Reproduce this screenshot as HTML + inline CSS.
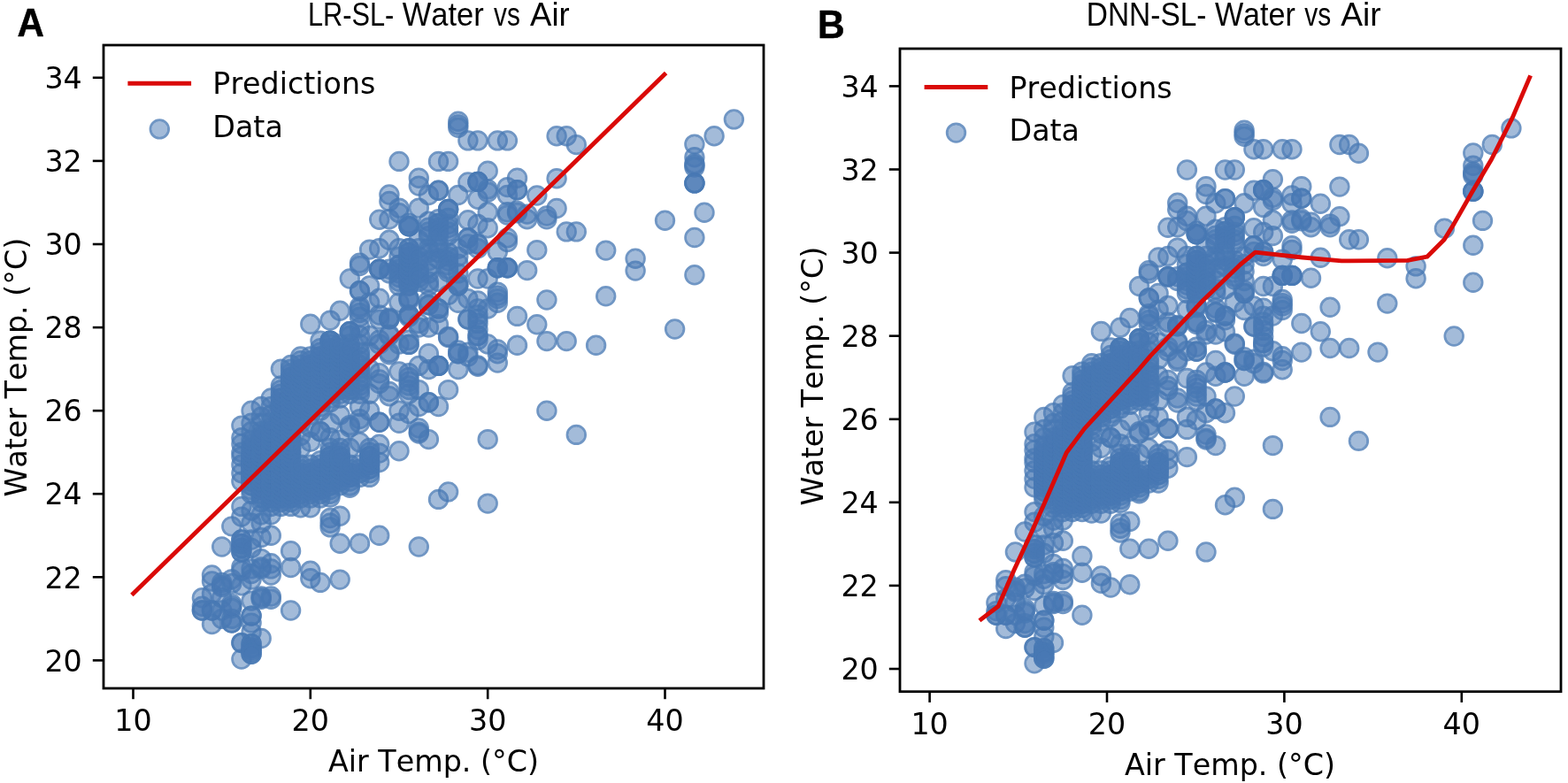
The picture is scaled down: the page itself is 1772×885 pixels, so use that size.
<!DOCTYPE html>
<html lang="en"><head><meta charset="utf-8"><title>LR-SL and DNN-SL - Water vs Air</title>
<style>html,body{margin:0;padding:0;background:#fff}body{width:1772px;height:885px;overflow:hidden}svg{display:block}text{font-kerning:none}.tk{font-family:"DejaVu Sans","Liberation Sans",sans-serif;font-size:33.3px;fill:#000}.lg{font-family:"DejaVu Sans","Liberation Sans",sans-serif;font-size:33.3px;fill:#000}.ax{font-family:"DejaVu Sans","Liberation Sans",sans-serif;font-size:33.35px;fill:#000}.tt{font-family:"Liberation Sans","DejaVu Sans",sans-serif;font-size:37px;fill:#000}.pl{font-family:"Liberation Sans","DejaVu Sans",sans-serif;font-size:43.5px;font-weight:bold;fill:#000;stroke:#000;stroke-width:.5px}</style></head><body>
<svg width="1772" height="885" viewBox="0 0 1772 885">
<rect width="1772" height="885" fill="#fff"/>
<defs><g id="d"><circle r="8.70" fill="#4878b4" fill-opacity="0.5"/><circle r="10.2" fill="none" stroke="#4878b4" stroke-opacity="0.78" stroke-width="3.0"/></g></defs>
<g>
<use href="#d" x="228.4" y="675.8"/><use href="#d" x="228.4" y="685.2"/><use href="#d" x="228.4" y="690.0"/><use href="#d" x="228.4" y="690.0"/><use href="#d" x="239.5" y="650.0"/><use href="#d" x="239.5" y="657.0"/><use href="#d" x="239.5" y="671.1"/><use href="#d" x="239.5" y="690.0"/><use href="#d" x="239.5" y="690.0"/><use href="#d" x="239.5" y="705.5"/><use href="#d" x="250.7" y="618.0"/><use href="#d" x="250.7" y="658.4"/><use href="#d" x="250.7" y="661.7"/><use href="#d" x="250.7" y="663.6"/><use href="#d" x="250.7" y="675.8"/><use href="#d" x="250.7" y="699.4"/><use href="#d" x="250.7" y="690.0"/><use href="#d" x="261.8" y="594.9"/><use href="#d" x="261.8" y="654.7"/><use href="#d" x="261.8" y="659.4"/><use href="#d" x="261.8" y="682.4"/><use href="#d" x="261.8" y="685.2"/><use href="#d" x="261.8" y="704.1"/><use href="#d" x="261.8" y="704.1"/><use href="#d" x="261.8" y="699.4"/><use href="#d" x="261.8" y="687.6"/><use href="#d" x="272.9" y="481.1"/><use href="#d" x="272.9" y="494.7"/><use href="#d" x="272.9" y="501.8"/><use href="#d" x="272.9" y="511.2"/><use href="#d" x="272.9" y="515.9"/><use href="#d" x="272.9" y="525.3"/><use href="#d" x="272.9" y="534.7"/><use href="#d" x="272.9" y="544.1"/><use href="#d" x="272.9" y="572.4"/><use href="#d" x="272.9" y="584.1"/><use href="#d" x="272.9" y="624.1"/><use href="#d" x="272.9" y="624.1"/><use href="#d" x="272.9" y="619.4"/><use href="#d" x="272.9" y="619.4"/><use href="#d" x="272.9" y="614.7"/><use href="#d" x="272.9" y="614.7"/><use href="#d" x="272.9" y="610.0"/><use href="#d" x="272.9" y="610.0"/><use href="#d" x="272.9" y="641.0"/><use href="#d" x="272.9" y="645.3"/><use href="#d" x="272.9" y="661.7"/><use href="#d" x="272.9" y="726.6"/><use href="#d" x="272.9" y="726.6"/><use href="#d" x="272.9" y="745.0"/><use href="#d" x="284.1" y="464.2"/><use href="#d" x="284.1" y="478.3"/><use href="#d" x="284.1" y="487.7"/><use href="#d" x="284.1" y="558.2"/><use href="#d" x="284.1" y="553.5"/><use href="#d" x="284.1" y="548.8"/><use href="#d" x="284.1" y="548.8"/><use href="#d" x="284.1" y="544.1"/><use href="#d" x="284.1" y="544.1"/><use href="#d" x="284.1" y="539.4"/><use href="#d" x="284.1" y="539.4"/><use href="#d" x="284.1" y="539.4"/><use href="#d" x="284.1" y="534.7"/><use href="#d" x="284.1" y="534.7"/><use href="#d" x="284.1" y="534.7"/><use href="#d" x="284.1" y="530.0"/><use href="#d" x="284.1" y="530.0"/><use href="#d" x="284.1" y="530.0"/><use href="#d" x="284.1" y="525.3"/><use href="#d" x="284.1" y="525.3"/><use href="#d" x="284.1" y="525.3"/><use href="#d" x="284.1" y="520.6"/><use href="#d" x="284.1" y="520.6"/><use href="#d" x="284.1" y="520.6"/><use href="#d" x="284.1" y="515.9"/><use href="#d" x="284.1" y="515.9"/><use href="#d" x="284.1" y="515.9"/><use href="#d" x="284.1" y="511.2"/><use href="#d" x="284.1" y="511.2"/><use href="#d" x="284.1" y="506.5"/><use href="#d" x="284.1" y="506.5"/><use href="#d" x="284.1" y="501.8"/><use href="#d" x="284.1" y="497.1"/><use href="#d" x="284.1" y="577.1"/><use href="#d" x="284.1" y="591.2"/><use href="#d" x="284.1" y="610.0"/><use href="#d" x="284.1" y="619.4"/><use href="#d" x="284.1" y="642.9"/><use href="#d" x="284.1" y="648.6"/><use href="#d" x="284.1" y="655.1"/><use href="#d" x="284.1" y="679.1"/><use href="#d" x="284.1" y="696.1"/><use href="#d" x="284.1" y="696.1"/><use href="#d" x="284.1" y="704.1"/><use href="#d" x="284.1" y="714.4"/><use href="#d" x="284.1" y="727.6"/><use href="#d" x="284.1" y="727.6"/><use href="#d" x="284.1" y="732.3"/><use href="#d" x="284.1" y="732.3"/><use href="#d" x="284.1" y="734.6"/><use href="#d" x="284.1" y="737.0"/><use href="#d" x="284.1" y="739.3"/><use href="#d" x="284.1" y="739.3"/><use href="#d" x="295.2" y="459.5"/><use href="#d" x="295.2" y="471.2"/><use href="#d" x="295.2" y="478.3"/><use href="#d" x="295.2" y="567.6"/><use href="#d" x="295.2" y="562.9"/><use href="#d" x="295.2" y="558.2"/><use href="#d" x="295.2" y="558.2"/><use href="#d" x="295.2" y="553.5"/><use href="#d" x="295.2" y="553.5"/><use href="#d" x="295.2" y="548.8"/><use href="#d" x="295.2" y="548.8"/><use href="#d" x="295.2" y="548.8"/><use href="#d" x="295.2" y="544.1"/><use href="#d" x="295.2" y="544.1"/><use href="#d" x="295.2" y="544.1"/><use href="#d" x="295.2" y="539.4"/><use href="#d" x="295.2" y="539.4"/><use href="#d" x="295.2" y="539.4"/><use href="#d" x="295.2" y="534.7"/><use href="#d" x="295.2" y="534.7"/><use href="#d" x="295.2" y="534.7"/><use href="#d" x="295.2" y="530.0"/><use href="#d" x="295.2" y="530.0"/><use href="#d" x="295.2" y="530.0"/><use href="#d" x="295.2" y="525.3"/><use href="#d" x="295.2" y="525.3"/><use href="#d" x="295.2" y="525.3"/><use href="#d" x="295.2" y="520.6"/><use href="#d" x="295.2" y="520.6"/><use href="#d" x="295.2" y="520.6"/><use href="#d" x="295.2" y="515.9"/><use href="#d" x="295.2" y="515.9"/><use href="#d" x="295.2" y="515.9"/><use href="#d" x="295.2" y="511.2"/><use href="#d" x="295.2" y="511.2"/><use href="#d" x="295.2" y="511.2"/><use href="#d" x="295.2" y="506.5"/><use href="#d" x="295.2" y="506.5"/><use href="#d" x="295.2" y="506.5"/><use href="#d" x="295.2" y="501.8"/><use href="#d" x="295.2" y="501.8"/><use href="#d" x="295.2" y="497.1"/><use href="#d" x="295.2" y="497.1"/><use href="#d" x="295.2" y="492.4"/><use href="#d" x="295.2" y="487.7"/><use href="#d" x="295.2" y="581.8"/><use href="#d" x="295.2" y="591.2"/><use href="#d" x="295.2" y="607.6"/><use href="#d" x="295.2" y="631.6"/><use href="#d" x="295.2" y="641.0"/><use href="#d" x="295.2" y="642.9"/><use href="#d" x="295.2" y="674.0"/><use href="#d" x="295.2" y="677.3"/><use href="#d" x="295.2" y="675.8"/><use href="#d" x="295.2" y="721.5"/><use href="#d" x="306.3" y="450.0"/><use href="#d" x="306.3" y="459.5"/><use href="#d" x="306.3" y="468.9"/><use href="#d" x="306.3" y="572.4"/><use href="#d" x="306.3" y="567.6"/><use href="#d" x="306.3" y="562.9"/><use href="#d" x="306.3" y="562.9"/><use href="#d" x="306.3" y="558.2"/><use href="#d" x="306.3" y="558.2"/><use href="#d" x="306.3" y="553.5"/><use href="#d" x="306.3" y="553.5"/><use href="#d" x="306.3" y="553.5"/><use href="#d" x="306.3" y="548.8"/><use href="#d" x="306.3" y="548.8"/><use href="#d" x="306.3" y="548.8"/><use href="#d" x="306.3" y="544.1"/><use href="#d" x="306.3" y="544.1"/><use href="#d" x="306.3" y="544.1"/><use href="#d" x="306.3" y="539.4"/><use href="#d" x="306.3" y="539.4"/><use href="#d" x="306.3" y="539.4"/><use href="#d" x="306.3" y="534.7"/><use href="#d" x="306.3" y="534.7"/><use href="#d" x="306.3" y="534.7"/><use href="#d" x="306.3" y="530.0"/><use href="#d" x="306.3" y="530.0"/><use href="#d" x="306.3" y="530.0"/><use href="#d" x="306.3" y="525.3"/><use href="#d" x="306.3" y="525.3"/><use href="#d" x="306.3" y="525.3"/><use href="#d" x="306.3" y="520.6"/><use href="#d" x="306.3" y="520.6"/><use href="#d" x="306.3" y="520.6"/><use href="#d" x="306.3" y="515.9"/><use href="#d" x="306.3" y="515.9"/><use href="#d" x="306.3" y="515.9"/><use href="#d" x="306.3" y="511.2"/><use href="#d" x="306.3" y="511.2"/><use href="#d" x="306.3" y="511.2"/><use href="#d" x="306.3" y="506.5"/><use href="#d" x="306.3" y="506.5"/><use href="#d" x="306.3" y="506.5"/><use href="#d" x="306.3" y="501.8"/><use href="#d" x="306.3" y="501.8"/><use href="#d" x="306.3" y="501.8"/><use href="#d" x="306.3" y="497.1"/><use href="#d" x="306.3" y="497.1"/><use href="#d" x="306.3" y="497.1"/><use href="#d" x="306.3" y="492.4"/><use href="#d" x="306.3" y="492.4"/><use href="#d" x="306.3" y="487.7"/><use href="#d" x="306.3" y="487.7"/><use href="#d" x="306.3" y="483.0"/><use href="#d" x="306.3" y="478.3"/><use href="#d" x="306.3" y="581.8"/><use href="#d" x="306.3" y="605.3"/><use href="#d" x="306.3" y="636.8"/><use href="#d" x="306.3" y="642.9"/><use href="#d" x="306.3" y="650.0"/><use href="#d" x="306.3" y="674.0"/><use href="#d" x="306.3" y="677.3"/><use href="#d" x="317.4" y="417.1"/><use href="#d" x="317.4" y="435.9"/><use href="#d" x="317.4" y="572.4"/><use href="#d" x="317.4" y="567.6"/><use href="#d" x="317.4" y="562.9"/><use href="#d" x="317.4" y="562.9"/><use href="#d" x="317.4" y="558.2"/><use href="#d" x="317.4" y="558.2"/><use href="#d" x="317.4" y="553.5"/><use href="#d" x="317.4" y="553.5"/><use href="#d" x="317.4" y="553.5"/><use href="#d" x="317.4" y="548.8"/><use href="#d" x="317.4" y="548.8"/><use href="#d" x="317.4" y="548.8"/><use href="#d" x="317.4" y="544.1"/><use href="#d" x="317.4" y="544.1"/><use href="#d" x="317.4" y="544.1"/><use href="#d" x="317.4" y="539.4"/><use href="#d" x="317.4" y="539.4"/><use href="#d" x="317.4" y="539.4"/><use href="#d" x="317.4" y="534.7"/><use href="#d" x="317.4" y="534.7"/><use href="#d" x="317.4" y="534.7"/><use href="#d" x="317.4" y="530.0"/><use href="#d" x="317.4" y="530.0"/><use href="#d" x="317.4" y="530.0"/><use href="#d" x="317.4" y="525.3"/><use href="#d" x="317.4" y="525.3"/><use href="#d" x="317.4" y="525.3"/><use href="#d" x="317.4" y="520.6"/><use href="#d" x="317.4" y="520.6"/><use href="#d" x="317.4" y="520.6"/><use href="#d" x="317.4" y="515.9"/><use href="#d" x="317.4" y="515.9"/><use href="#d" x="317.4" y="515.9"/><use href="#d" x="317.4" y="511.2"/><use href="#d" x="317.4" y="511.2"/><use href="#d" x="317.4" y="511.2"/><use href="#d" x="317.4" y="506.5"/><use href="#d" x="317.4" y="506.5"/><use href="#d" x="317.4" y="506.5"/><use href="#d" x="317.4" y="501.8"/><use href="#d" x="317.4" y="501.8"/><use href="#d" x="317.4" y="501.8"/><use href="#d" x="317.4" y="497.1"/><use href="#d" x="317.4" y="497.1"/><use href="#d" x="317.4" y="497.1"/><use href="#d" x="317.4" y="492.4"/><use href="#d" x="317.4" y="492.4"/><use href="#d" x="317.4" y="492.4"/><use href="#d" x="317.4" y="487.7"/><use href="#d" x="317.4" y="487.7"/><use href="#d" x="317.4" y="487.7"/><use href="#d" x="317.4" y="483.0"/><use href="#d" x="317.4" y="483.0"/><use href="#d" x="317.4" y="483.0"/><use href="#d" x="317.4" y="478.3"/><use href="#d" x="317.4" y="478.3"/><use href="#d" x="317.4" y="478.3"/><use href="#d" x="317.4" y="473.6"/><use href="#d" x="317.4" y="473.6"/><use href="#d" x="317.4" y="473.6"/><use href="#d" x="317.4" y="468.9"/><use href="#d" x="317.4" y="468.9"/><use href="#d" x="317.4" y="468.9"/><use href="#d" x="317.4" y="464.2"/><use href="#d" x="317.4" y="464.2"/><use href="#d" x="317.4" y="464.2"/><use href="#d" x="317.4" y="459.5"/><use href="#d" x="317.4" y="459.5"/><use href="#d" x="317.4" y="459.5"/><use href="#d" x="317.4" y="454.8"/><use href="#d" x="317.4" y="454.8"/><use href="#d" x="317.4" y="450.0"/><use href="#d" x="317.4" y="450.0"/><use href="#d" x="317.4" y="445.3"/><use href="#d" x="317.4" y="440.6"/><use href="#d" x="328.6" y="412.4"/><use href="#d" x="328.6" y="572.4"/><use href="#d" x="328.6" y="567.6"/><use href="#d" x="328.6" y="562.9"/><use href="#d" x="328.6" y="562.9"/><use href="#d" x="328.6" y="558.2"/><use href="#d" x="328.6" y="558.2"/><use href="#d" x="328.6" y="553.5"/><use href="#d" x="328.6" y="553.5"/><use href="#d" x="328.6" y="553.5"/><use href="#d" x="328.6" y="548.8"/><use href="#d" x="328.6" y="548.8"/><use href="#d" x="328.6" y="548.8"/><use href="#d" x="328.6" y="544.1"/><use href="#d" x="328.6" y="544.1"/><use href="#d" x="328.6" y="544.1"/><use href="#d" x="328.6" y="539.4"/><use href="#d" x="328.6" y="539.4"/><use href="#d" x="328.6" y="539.4"/><use href="#d" x="328.6" y="534.7"/><use href="#d" x="328.6" y="534.7"/><use href="#d" x="328.6" y="534.7"/><use href="#d" x="328.6" y="530.0"/><use href="#d" x="328.6" y="530.0"/><use href="#d" x="328.6" y="530.0"/><use href="#d" x="328.6" y="525.3"/><use href="#d" x="328.6" y="525.3"/><use href="#d" x="328.6" y="525.3"/><use href="#d" x="328.6" y="520.6"/><use href="#d" x="328.6" y="520.6"/><use href="#d" x="328.6" y="520.6"/><use href="#d" x="328.6" y="515.9"/><use href="#d" x="328.6" y="515.9"/><use href="#d" x="328.6" y="515.9"/><use href="#d" x="328.6" y="511.2"/><use href="#d" x="328.6" y="511.2"/><use href="#d" x="328.6" y="511.2"/><use href="#d" x="328.6" y="506.5"/><use href="#d" x="328.6" y="506.5"/><use href="#d" x="328.6" y="506.5"/><use href="#d" x="328.6" y="501.8"/><use href="#d" x="328.6" y="501.8"/><use href="#d" x="328.6" y="501.8"/><use href="#d" x="328.6" y="497.1"/><use href="#d" x="328.6" y="497.1"/><use href="#d" x="328.6" y="497.1"/><use href="#d" x="328.6" y="492.4"/><use href="#d" x="328.6" y="492.4"/><use href="#d" x="328.6" y="492.4"/><use href="#d" x="328.6" y="487.7"/><use href="#d" x="328.6" y="487.7"/><use href="#d" x="328.6" y="487.7"/><use href="#d" x="328.6" y="483.0"/><use href="#d" x="328.6" y="483.0"/><use href="#d" x="328.6" y="483.0"/><use href="#d" x="328.6" y="478.3"/><use href="#d" x="328.6" y="478.3"/><use href="#d" x="328.6" y="478.3"/><use href="#d" x="328.6" y="473.6"/><use href="#d" x="328.6" y="473.6"/><use href="#d" x="328.6" y="473.6"/><use href="#d" x="328.6" y="468.9"/><use href="#d" x="328.6" y="468.9"/><use href="#d" x="328.6" y="468.9"/><use href="#d" x="328.6" y="464.2"/><use href="#d" x="328.6" y="464.2"/><use href="#d" x="328.6" y="464.2"/><use href="#d" x="328.6" y="459.5"/><use href="#d" x="328.6" y="459.5"/><use href="#d" x="328.6" y="459.5"/><use href="#d" x="328.6" y="454.8"/><use href="#d" x="328.6" y="454.8"/><use href="#d" x="328.6" y="454.8"/><use href="#d" x="328.6" y="450.0"/><use href="#d" x="328.6" y="450.0"/><use href="#d" x="328.6" y="450.0"/><use href="#d" x="328.6" y="445.3"/><use href="#d" x="328.6" y="445.3"/><use href="#d" x="328.6" y="445.3"/><use href="#d" x="328.6" y="440.6"/><use href="#d" x="328.6" y="440.6"/><use href="#d" x="328.6" y="440.6"/><use href="#d" x="328.6" y="435.9"/><use href="#d" x="328.6" y="435.9"/><use href="#d" x="328.6" y="435.9"/><use href="#d" x="328.6" y="431.2"/><use href="#d" x="328.6" y="431.2"/><use href="#d" x="328.6" y="426.5"/><use href="#d" x="328.6" y="426.5"/><use href="#d" x="328.6" y="421.8"/><use href="#d" x="328.6" y="417.1"/><use href="#d" x="328.6" y="622.7"/><use href="#d" x="328.6" y="641.5"/><use href="#d" x="328.6" y="690.0"/><use href="#d" x="339.7" y="403.0"/><use href="#d" x="339.7" y="478.3"/><use href="#d" x="339.7" y="473.6"/><use href="#d" x="339.7" y="468.9"/><use href="#d" x="339.7" y="468.9"/><use href="#d" x="339.7" y="464.2"/><use href="#d" x="339.7" y="464.2"/><use href="#d" x="339.7" y="459.5"/><use href="#d" x="339.7" y="459.5"/><use href="#d" x="339.7" y="459.5"/><use href="#d" x="339.7" y="454.8"/><use href="#d" x="339.7" y="454.8"/><use href="#d" x="339.7" y="454.8"/><use href="#d" x="339.7" y="450.0"/><use href="#d" x="339.7" y="450.0"/><use href="#d" x="339.7" y="450.0"/><use href="#d" x="339.7" y="445.3"/><use href="#d" x="339.7" y="445.3"/><use href="#d" x="339.7" y="445.3"/><use href="#d" x="339.7" y="440.6"/><use href="#d" x="339.7" y="440.6"/><use href="#d" x="339.7" y="440.6"/><use href="#d" x="339.7" y="435.9"/><use href="#d" x="339.7" y="435.9"/><use href="#d" x="339.7" y="435.9"/><use href="#d" x="339.7" y="431.2"/><use href="#d" x="339.7" y="431.2"/><use href="#d" x="339.7" y="431.2"/><use href="#d" x="339.7" y="426.5"/><use href="#d" x="339.7" y="426.5"/><use href="#d" x="339.7" y="426.5"/><use href="#d" x="339.7" y="421.8"/><use href="#d" x="339.7" y="421.8"/><use href="#d" x="339.7" y="417.1"/><use href="#d" x="339.7" y="417.1"/><use href="#d" x="339.7" y="412.4"/><use href="#d" x="339.7" y="407.7"/><use href="#d" x="339.7" y="492.4"/><use href="#d" x="339.7" y="506.5"/><use href="#d" x="339.7" y="573.8"/><use href="#d" x="339.7" y="562.9"/><use href="#d" x="339.7" y="558.2"/><use href="#d" x="339.7" y="553.5"/><use href="#d" x="339.7" y="553.5"/><use href="#d" x="339.7" y="548.8"/><use href="#d" x="339.7" y="548.8"/><use href="#d" x="339.7" y="544.1"/><use href="#d" x="339.7" y="544.1"/><use href="#d" x="339.7" y="544.1"/><use href="#d" x="339.7" y="539.4"/><use href="#d" x="339.7" y="539.4"/><use href="#d" x="339.7" y="534.7"/><use href="#d" x="339.7" y="534.7"/><use href="#d" x="339.7" y="530.0"/><use href="#d" x="339.7" y="525.3"/><use href="#d" x="350.8" y="366.3"/><use href="#d" x="350.8" y="468.9"/><use href="#d" x="350.8" y="464.2"/><use href="#d" x="350.8" y="459.5"/><use href="#d" x="350.8" y="459.5"/><use href="#d" x="350.8" y="454.8"/><use href="#d" x="350.8" y="454.8"/><use href="#d" x="350.8" y="450.0"/><use href="#d" x="350.8" y="450.0"/><use href="#d" x="350.8" y="450.0"/><use href="#d" x="350.8" y="445.3"/><use href="#d" x="350.8" y="445.3"/><use href="#d" x="350.8" y="445.3"/><use href="#d" x="350.8" y="440.6"/><use href="#d" x="350.8" y="440.6"/><use href="#d" x="350.8" y="440.6"/><use href="#d" x="350.8" y="435.9"/><use href="#d" x="350.8" y="435.9"/><use href="#d" x="350.8" y="435.9"/><use href="#d" x="350.8" y="431.2"/><use href="#d" x="350.8" y="431.2"/><use href="#d" x="350.8" y="431.2"/><use href="#d" x="350.8" y="426.5"/><use href="#d" x="350.8" y="426.5"/><use href="#d" x="350.8" y="426.5"/><use href="#d" x="350.8" y="421.8"/><use href="#d" x="350.8" y="421.8"/><use href="#d" x="350.8" y="421.8"/><use href="#d" x="350.8" y="417.1"/><use href="#d" x="350.8" y="417.1"/><use href="#d" x="350.8" y="412.4"/><use href="#d" x="350.8" y="412.4"/><use href="#d" x="350.8" y="407.7"/><use href="#d" x="350.8" y="403.0"/><use href="#d" x="350.8" y="483.0"/><use href="#d" x="350.8" y="499.4"/><use href="#d" x="350.8" y="573.8"/><use href="#d" x="350.8" y="562.9"/><use href="#d" x="350.8" y="558.2"/><use href="#d" x="350.8" y="553.5"/><use href="#d" x="350.8" y="553.5"/><use href="#d" x="350.8" y="548.8"/><use href="#d" x="350.8" y="548.8"/><use href="#d" x="350.8" y="544.1"/><use href="#d" x="350.8" y="544.1"/><use href="#d" x="350.8" y="544.1"/><use href="#d" x="350.8" y="539.4"/><use href="#d" x="350.8" y="539.4"/><use href="#d" x="350.8" y="534.7"/><use href="#d" x="350.8" y="534.7"/><use href="#d" x="350.8" y="530.0"/><use href="#d" x="350.8" y="525.3"/><use href="#d" x="350.8" y="645.3"/><use href="#d" x="350.8" y="653.7"/><use href="#d" x="362.0" y="385.1"/><use href="#d" x="362.0" y="464.2"/><use href="#d" x="362.0" y="459.5"/><use href="#d" x="362.0" y="454.8"/><use href="#d" x="362.0" y="454.8"/><use href="#d" x="362.0" y="450.0"/><use href="#d" x="362.0" y="450.0"/><use href="#d" x="362.0" y="445.3"/><use href="#d" x="362.0" y="445.3"/><use href="#d" x="362.0" y="445.3"/><use href="#d" x="362.0" y="440.6"/><use href="#d" x="362.0" y="440.6"/><use href="#d" x="362.0" y="440.6"/><use href="#d" x="362.0" y="435.9"/><use href="#d" x="362.0" y="435.9"/><use href="#d" x="362.0" y="435.9"/><use href="#d" x="362.0" y="431.2"/><use href="#d" x="362.0" y="431.2"/><use href="#d" x="362.0" y="431.2"/><use href="#d" x="362.0" y="426.5"/><use href="#d" x="362.0" y="426.5"/><use href="#d" x="362.0" y="426.5"/><use href="#d" x="362.0" y="421.8"/><use href="#d" x="362.0" y="421.8"/><use href="#d" x="362.0" y="421.8"/><use href="#d" x="362.0" y="417.1"/><use href="#d" x="362.0" y="417.1"/><use href="#d" x="362.0" y="417.1"/><use href="#d" x="362.0" y="412.4"/><use href="#d" x="362.0" y="412.4"/><use href="#d" x="362.0" y="412.4"/><use href="#d" x="362.0" y="407.7"/><use href="#d" x="362.0" y="407.7"/><use href="#d" x="362.0" y="403.0"/><use href="#d" x="362.0" y="403.0"/><use href="#d" x="362.0" y="398.3"/><use href="#d" x="362.0" y="393.6"/><use href="#d" x="362.0" y="487.7"/><use href="#d" x="362.0" y="487.7"/><use href="#d" x="362.0" y="562.9"/><use href="#d" x="362.0" y="558.2"/><use href="#d" x="362.0" y="553.5"/><use href="#d" x="362.0" y="553.5"/><use href="#d" x="362.0" y="548.8"/><use href="#d" x="362.0" y="548.8"/><use href="#d" x="362.0" y="544.1"/><use href="#d" x="362.0" y="544.1"/><use href="#d" x="362.0" y="544.1"/><use href="#d" x="362.0" y="539.4"/><use href="#d" x="362.0" y="539.4"/><use href="#d" x="362.0" y="539.4"/><use href="#d" x="362.0" y="534.7"/><use href="#d" x="362.0" y="534.7"/><use href="#d" x="362.0" y="530.0"/><use href="#d" x="362.0" y="530.0"/><use href="#d" x="362.0" y="525.3"/><use href="#d" x="362.0" y="520.6"/><use href="#d" x="362.0" y="658.4"/><use href="#d" x="373.1" y="362.1"/><use href="#d" x="373.1" y="385.1"/><use href="#d" x="373.1" y="385.1"/><use href="#d" x="373.1" y="385.1"/><use href="#d" x="373.1" y="454.8"/><use href="#d" x="373.1" y="450.0"/><use href="#d" x="373.1" y="445.3"/><use href="#d" x="373.1" y="445.3"/><use href="#d" x="373.1" y="440.6"/><use href="#d" x="373.1" y="440.6"/><use href="#d" x="373.1" y="435.9"/><use href="#d" x="373.1" y="435.9"/><use href="#d" x="373.1" y="435.9"/><use href="#d" x="373.1" y="431.2"/><use href="#d" x="373.1" y="431.2"/><use href="#d" x="373.1" y="431.2"/><use href="#d" x="373.1" y="426.5"/><use href="#d" x="373.1" y="426.5"/><use href="#d" x="373.1" y="426.5"/><use href="#d" x="373.1" y="421.8"/><use href="#d" x="373.1" y="421.8"/><use href="#d" x="373.1" y="421.8"/><use href="#d" x="373.1" y="417.1"/><use href="#d" x="373.1" y="417.1"/><use href="#d" x="373.1" y="417.1"/><use href="#d" x="373.1" y="412.4"/><use href="#d" x="373.1" y="412.4"/><use href="#d" x="373.1" y="412.4"/><use href="#d" x="373.1" y="407.7"/><use href="#d" x="373.1" y="407.7"/><use href="#d" x="373.1" y="407.7"/><use href="#d" x="373.1" y="403.0"/><use href="#d" x="373.1" y="403.0"/><use href="#d" x="373.1" y="398.3"/><use href="#d" x="373.1" y="398.3"/><use href="#d" x="373.1" y="393.6"/><use href="#d" x="373.1" y="388.9"/><use href="#d" x="373.1" y="478.3"/><use href="#d" x="373.1" y="494.7"/><use href="#d" x="373.1" y="562.0"/><use href="#d" x="373.1" y="558.2"/><use href="#d" x="373.1" y="553.5"/><use href="#d" x="373.1" y="548.8"/><use href="#d" x="373.1" y="548.8"/><use href="#d" x="373.1" y="544.1"/><use href="#d" x="373.1" y="544.1"/><use href="#d" x="373.1" y="539.4"/><use href="#d" x="373.1" y="539.4"/><use href="#d" x="373.1" y="539.4"/><use href="#d" x="373.1" y="534.7"/><use href="#d" x="373.1" y="534.7"/><use href="#d" x="373.1" y="534.7"/><use href="#d" x="373.1" y="530.0"/><use href="#d" x="373.1" y="530.0"/><use href="#d" x="373.1" y="530.0"/><use href="#d" x="373.1" y="525.3"/><use href="#d" x="373.1" y="525.3"/><use href="#d" x="373.1" y="525.3"/><use href="#d" x="373.1" y="520.6"/><use href="#d" x="373.1" y="520.6"/><use href="#d" x="373.1" y="515.9"/><use href="#d" x="373.1" y="515.9"/><use href="#d" x="373.1" y="511.2"/><use href="#d" x="373.1" y="506.5"/><use href="#d" x="373.1" y="520.6"/><use href="#d" x="373.1" y="515.9"/><use href="#d" x="373.1" y="585.5"/><use href="#d" x="373.1" y="591.2"/><use href="#d" x="373.1" y="595.9"/><use href="#d" x="384.2" y="351.3"/><use href="#d" x="384.2" y="450.0"/><use href="#d" x="384.2" y="445.3"/><use href="#d" x="384.2" y="440.6"/><use href="#d" x="384.2" y="440.6"/><use href="#d" x="384.2" y="435.9"/><use href="#d" x="384.2" y="435.9"/><use href="#d" x="384.2" y="431.2"/><use href="#d" x="384.2" y="431.2"/><use href="#d" x="384.2" y="431.2"/><use href="#d" x="384.2" y="426.5"/><use href="#d" x="384.2" y="426.5"/><use href="#d" x="384.2" y="426.5"/><use href="#d" x="384.2" y="421.8"/><use href="#d" x="384.2" y="421.8"/><use href="#d" x="384.2" y="421.8"/><use href="#d" x="384.2" y="417.1"/><use href="#d" x="384.2" y="417.1"/><use href="#d" x="384.2" y="417.1"/><use href="#d" x="384.2" y="412.4"/><use href="#d" x="384.2" y="412.4"/><use href="#d" x="384.2" y="412.4"/><use href="#d" x="384.2" y="407.7"/><use href="#d" x="384.2" y="407.7"/><use href="#d" x="384.2" y="407.7"/><use href="#d" x="384.2" y="403.0"/><use href="#d" x="384.2" y="403.0"/><use href="#d" x="384.2" y="398.3"/><use href="#d" x="384.2" y="398.3"/><use href="#d" x="384.2" y="393.6"/><use href="#d" x="384.2" y="388.9"/><use href="#d" x="384.2" y="468.9"/><use href="#d" x="384.2" y="497.1"/><use href="#d" x="384.2" y="548.8"/><use href="#d" x="384.2" y="544.1"/><use href="#d" x="384.2" y="539.4"/><use href="#d" x="384.2" y="539.4"/><use href="#d" x="384.2" y="534.7"/><use href="#d" x="384.2" y="534.7"/><use href="#d" x="384.2" y="530.0"/><use href="#d" x="384.2" y="530.0"/><use href="#d" x="384.2" y="530.0"/><use href="#d" x="384.2" y="525.3"/><use href="#d" x="384.2" y="525.3"/><use href="#d" x="384.2" y="525.3"/><use href="#d" x="384.2" y="520.6"/><use href="#d" x="384.2" y="520.6"/><use href="#d" x="384.2" y="515.9"/><use href="#d" x="384.2" y="515.9"/><use href="#d" x="384.2" y="511.2"/><use href="#d" x="384.2" y="506.5"/><use href="#d" x="384.2" y="520.6"/><use href="#d" x="384.2" y="515.9"/><use href="#d" x="384.2" y="583.2"/><use href="#d" x="384.2" y="614.2"/><use href="#d" x="384.2" y="655.1"/><use href="#d" x="395.3" y="315.0"/><use href="#d" x="395.3" y="374.8"/><use href="#d" x="395.3" y="374.8"/><use href="#d" x="395.3" y="374.8"/><use href="#d" x="395.3" y="379.5"/><use href="#d" x="395.3" y="388.9"/><use href="#d" x="395.3" y="403.0"/><use href="#d" x="395.3" y="417.1"/><use href="#d" x="395.3" y="426.5"/><use href="#d" x="395.3" y="440.6"/><use href="#d" x="395.3" y="483.0"/><use href="#d" x="395.3" y="480.6"/><use href="#d" x="395.3" y="506.5"/><use href="#d" x="395.3" y="551.2"/><use href="#d" x="395.3" y="548.8"/><use href="#d" x="395.3" y="544.1"/><use href="#d" x="395.3" y="539.4"/><use href="#d" x="395.3" y="539.4"/><use href="#d" x="395.3" y="534.7"/><use href="#d" x="395.3" y="534.7"/><use href="#d" x="395.3" y="530.0"/><use href="#d" x="395.3" y="525.3"/><use href="#d" x="395.3" y="445.3"/><use href="#d" x="395.3" y="440.6"/><use href="#d" x="395.3" y="435.9"/><use href="#d" x="395.3" y="435.9"/><use href="#d" x="395.3" y="431.2"/><use href="#d" x="395.3" y="431.2"/><use href="#d" x="395.3" y="426.5"/><use href="#d" x="395.3" y="426.5"/><use href="#d" x="395.3" y="426.5"/><use href="#d" x="395.3" y="421.8"/><use href="#d" x="395.3" y="421.8"/><use href="#d" x="395.3" y="421.8"/><use href="#d" x="395.3" y="417.1"/><use href="#d" x="395.3" y="417.1"/><use href="#d" x="395.3" y="417.1"/><use href="#d" x="395.3" y="412.4"/><use href="#d" x="395.3" y="412.4"/><use href="#d" x="395.3" y="412.4"/><use href="#d" x="395.3" y="407.7"/><use href="#d" x="395.3" y="407.7"/><use href="#d" x="395.3" y="403.0"/><use href="#d" x="395.3" y="403.0"/><use href="#d" x="395.3" y="398.3"/><use href="#d" x="395.3" y="393.6"/><use href="#d" x="406.5" y="297.2"/><use href="#d" x="406.5" y="300.5"/><use href="#d" x="406.5" y="328.7"/><use href="#d" x="406.5" y="328.7"/><use href="#d" x="406.5" y="346.6"/><use href="#d" x="406.5" y="348.9"/><use href="#d" x="406.5" y="353.6"/><use href="#d" x="406.5" y="358.3"/><use href="#d" x="406.5" y="445.3"/><use href="#d" x="406.5" y="435.9"/><use href="#d" x="406.5" y="426.5"/><use href="#d" x="406.5" y="417.1"/><use href="#d" x="406.5" y="407.7"/><use href="#d" x="406.5" y="398.3"/><use href="#d" x="406.5" y="388.9"/><use href="#d" x="406.5" y="379.5"/><use href="#d" x="406.5" y="370.1"/><use href="#d" x="406.5" y="459.5"/><use href="#d" x="406.5" y="473.6"/><use href="#d" x="406.5" y="478.3"/><use href="#d" x="406.5" y="499.9"/><use href="#d" x="406.5" y="539.4"/><use href="#d" x="406.5" y="534.7"/><use href="#d" x="406.5" y="530.0"/><use href="#d" x="406.5" y="525.3"/><use href="#d" x="406.5" y="614.2"/><use href="#d" x="406.5" y="440.6"/><use href="#d" x="406.5" y="431.2"/><use href="#d" x="406.5" y="421.8"/><use href="#d" x="406.5" y="412.4"/><use href="#d" x="406.5" y="403.0"/><use href="#d" x="417.6" y="282.1"/><use href="#d" x="417.6" y="323.0"/><use href="#d" x="417.6" y="341.9"/><use href="#d" x="417.6" y="379.5"/><use href="#d" x="417.6" y="398.3"/><use href="#d" x="417.6" y="417.1"/><use href="#d" x="417.6" y="445.3"/><use href="#d" x="417.6" y="464.2"/><use href="#d" x="417.6" y="539.4"/><use href="#d" x="417.6" y="534.7"/><use href="#d" x="417.6" y="530.0"/><use href="#d" x="417.6" y="530.0"/><use href="#d" x="417.6" y="525.3"/><use href="#d" x="417.6" y="525.3"/><use href="#d" x="417.6" y="520.6"/><use href="#d" x="417.6" y="520.6"/><use href="#d" x="417.6" y="515.9"/><use href="#d" x="417.6" y="515.9"/><use href="#d" x="417.6" y="511.2"/><use href="#d" x="417.6" y="506.5"/><use href="#d" x="417.6" y="525.3"/><use href="#d" x="417.6" y="515.9"/><use href="#d" x="428.7" y="248.2"/><use href="#d" x="428.7" y="280.7"/><use href="#d" x="428.7" y="304.2"/><use href="#d" x="428.7" y="304.2"/><use href="#d" x="428.7" y="304.2"/><use href="#d" x="428.7" y="337.2"/><use href="#d" x="428.7" y="356.0"/><use href="#d" x="428.7" y="361.1"/><use href="#d" x="428.7" y="384.2"/><use href="#d" x="428.7" y="388.9"/><use href="#d" x="428.7" y="421.8"/><use href="#d" x="428.7" y="428.9"/><use href="#d" x="428.7" y="433.6"/><use href="#d" x="428.7" y="477.3"/><use href="#d" x="428.7" y="477.3"/><use href="#d" x="428.7" y="502.3"/><use href="#d" x="428.7" y="512.1"/><use href="#d" x="428.7" y="522.5"/><use href="#d" x="428.7" y="605.3"/><use href="#d" x="439.9" y="220.0"/><use href="#d" x="439.9" y="227.5"/><use href="#d" x="439.9" y="247.8"/><use href="#d" x="439.9" y="271.3"/><use href="#d" x="439.9" y="304.2"/><use href="#d" x="439.9" y="308.9"/><use href="#d" x="439.9" y="359.3"/><use href="#d" x="439.9" y="360.7"/><use href="#d" x="439.9" y="360.7"/><use href="#d" x="439.9" y="378.1"/><use href="#d" x="439.9" y="379.5"/><use href="#d" x="439.9" y="398.3"/><use href="#d" x="439.9" y="400.7"/><use href="#d" x="439.9" y="442.5"/><use href="#d" x="439.9" y="447.7"/><use href="#d" x="451.0" y="182.4"/><use href="#d" x="451.0" y="235.1"/><use href="#d" x="451.0" y="240.7"/><use href="#d" x="451.0" y="280.7"/><use href="#d" x="451.0" y="299.5"/><use href="#d" x="451.0" y="299.5"/><use href="#d" x="451.0" y="304.2"/><use href="#d" x="451.0" y="308.9"/><use href="#d" x="451.0" y="313.6"/><use href="#d" x="451.0" y="341.9"/><use href="#d" x="451.0" y="388.9"/><use href="#d" x="451.0" y="419.9"/><use href="#d" x="451.0" y="464.2"/><use href="#d" x="451.0" y="478.3"/><use href="#d" x="451.0" y="509.8"/><use href="#d" x="451.0" y="290.1"/><use href="#d" x="451.0" y="318.3"/><use href="#d" x="451.0" y="323.0"/><use href="#d" x="462.1" y="252.5"/><use href="#d" x="462.1" y="255.8"/><use href="#d" x="462.1" y="255.8"/><use href="#d" x="462.1" y="255.8"/><use href="#d" x="462.1" y="323.0"/><use href="#d" x="462.1" y="323.0"/><use href="#d" x="462.1" y="318.3"/><use href="#d" x="462.1" y="318.3"/><use href="#d" x="462.1" y="313.6"/><use href="#d" x="462.1" y="313.6"/><use href="#d" x="462.1" y="308.9"/><use href="#d" x="462.1" y="308.9"/><use href="#d" x="462.1" y="304.2"/><use href="#d" x="462.1" y="304.2"/><use href="#d" x="462.1" y="299.5"/><use href="#d" x="462.1" y="299.5"/><use href="#d" x="462.1" y="294.8"/><use href="#d" x="462.1" y="294.8"/><use href="#d" x="462.1" y="290.1"/><use href="#d" x="462.1" y="290.1"/><use href="#d" x="462.1" y="285.4"/><use href="#d" x="462.1" y="285.4"/><use href="#d" x="462.1" y="280.7"/><use href="#d" x="462.1" y="280.7"/><use href="#d" x="462.1" y="337.2"/><use href="#d" x="462.1" y="337.2"/><use href="#d" x="462.1" y="339.5"/><use href="#d" x="462.1" y="356.0"/><use href="#d" x="462.1" y="356.0"/><use href="#d" x="462.1" y="358.3"/><use href="#d" x="462.1" y="384.2"/><use href="#d" x="462.1" y="389.4"/><use href="#d" x="462.1" y="389.4"/><use href="#d" x="462.1" y="445.3"/><use href="#d" x="462.1" y="440.6"/><use href="#d" x="462.1" y="435.9"/><use href="#d" x="462.1" y="431.2"/><use href="#d" x="462.1" y="426.5"/><use href="#d" x="462.1" y="421.8"/><use href="#d" x="462.1" y="467.5"/><use href="#d" x="473.3" y="201.2"/><use href="#d" x="473.3" y="210.1"/><use href="#d" x="473.3" y="235.1"/><use href="#d" x="473.3" y="271.3"/><use href="#d" x="473.3" y="294.8"/><use href="#d" x="473.3" y="318.3"/><use href="#d" x="473.3" y="365.4"/><use href="#d" x="473.3" y="370.1"/><use href="#d" x="473.3" y="413.4"/><use href="#d" x="473.3" y="440.6"/><use href="#d" x="473.3" y="459.5"/><use href="#d" x="473.3" y="483.9"/><use href="#d" x="473.3" y="488.2"/><use href="#d" x="473.3" y="490.0"/><use href="#d" x="473.3" y="618.0"/><use href="#d" x="473.3" y="280.7"/><use href="#d" x="473.3" y="290.1"/><use href="#d" x="473.3" y="304.2"/><use href="#d" x="473.3" y="308.9"/><use href="#d" x="473.3" y="313.6"/><use href="#d" x="484.4" y="220.5"/><use href="#d" x="484.4" y="250.1"/><use href="#d" x="484.4" y="266.6"/><use href="#d" x="484.4" y="301.9"/><use href="#d" x="484.4" y="308.9"/><use href="#d" x="484.4" y="340.0"/><use href="#d" x="484.4" y="344.7"/><use href="#d" x="484.4" y="344.7"/><use href="#d" x="484.4" y="370.1"/><use href="#d" x="484.4" y="399.7"/><use href="#d" x="484.4" y="417.6"/><use href="#d" x="484.4" y="454.8"/><use href="#d" x="484.4" y="454.8"/><use href="#d" x="484.4" y="496.6"/><use href="#d" x="484.4" y="257.2"/><use href="#d" x="484.4" y="261.9"/><use href="#d" x="484.4" y="280.7"/><use href="#d" x="484.4" y="285.4"/><use href="#d" x="484.4" y="294.8"/><use href="#d" x="484.4" y="318.3"/><use href="#d" x="484.4" y="323.0"/><use href="#d" x="495.5" y="182.4"/><use href="#d" x="495.5" y="215.3"/><use href="#d" x="495.5" y="215.3"/><use href="#d" x="495.5" y="247.8"/><use href="#d" x="495.5" y="252.5"/><use href="#d" x="495.5" y="252.5"/><use href="#d" x="495.5" y="257.2"/><use href="#d" x="495.5" y="276.0"/><use href="#d" x="495.5" y="280.7"/><use href="#d" x="495.5" y="285.4"/><use href="#d" x="495.5" y="292.5"/><use href="#d" x="495.5" y="318.3"/><use href="#d" x="495.5" y="348.9"/><use href="#d" x="495.5" y="348.9"/><use href="#d" x="495.5" y="353.6"/><use href="#d" x="495.5" y="366.8"/><use href="#d" x="495.5" y="413.4"/><use href="#d" x="495.5" y="413.4"/><use href="#d" x="495.5" y="413.4"/><use href="#d" x="495.5" y="459.5"/><use href="#d" x="495.5" y="564.4"/><use href="#d" x="495.5" y="261.9"/><use href="#d" x="495.5" y="266.6"/><use href="#d" x="506.6" y="182.4"/><use href="#d" x="506.6" y="236.5"/><use href="#d" x="506.6" y="236.5"/><use href="#d" x="506.6" y="236.5"/><use href="#d" x="506.6" y="246.4"/><use href="#d" x="506.6" y="253.4"/><use href="#d" x="506.6" y="257.7"/><use href="#d" x="506.6" y="285.4"/><use href="#d" x="506.6" y="290.1"/><use href="#d" x="506.6" y="294.8"/><use href="#d" x="506.6" y="299.5"/><use href="#d" x="506.6" y="304.2"/><use href="#d" x="506.6" y="307.5"/><use href="#d" x="506.6" y="333.4"/><use href="#d" x="506.6" y="380.4"/><use href="#d" x="506.6" y="381.4"/><use href="#d" x="506.6" y="440.6"/><use href="#d" x="506.6" y="555.9"/><use href="#d" x="506.6" y="261.9"/><use href="#d" x="506.6" y="266.6"/><use href="#d" x="517.8" y="137.2"/><use href="#d" x="517.8" y="141.0"/><use href="#d" x="517.8" y="144.3"/><use href="#d" x="517.8" y="220.5"/><use href="#d" x="517.8" y="281.2"/><use href="#d" x="517.8" y="298.1"/><use href="#d" x="517.8" y="319.7"/><use href="#d" x="517.8" y="323.0"/><use href="#d" x="517.8" y="323.0"/><use href="#d" x="517.8" y="342.3"/><use href="#d" x="517.8" y="396.0"/><use href="#d" x="517.8" y="399.7"/><use href="#d" x="517.8" y="399.7"/><use href="#d" x="517.8" y="417.6"/><use href="#d" x="517.8" y="290.1"/><use href="#d" x="517.8" y="308.9"/><use href="#d" x="528.9" y="158.9"/><use href="#d" x="528.9" y="205.9"/><use href="#d" x="528.9" y="248.7"/><use href="#d" x="528.9" y="268.9"/><use href="#d" x="528.9" y="268.9"/><use href="#d" x="528.9" y="276.0"/><use href="#d" x="528.9" y="337.6"/><use href="#d" x="528.9" y="360.7"/><use href="#d" x="528.9" y="361.1"/><use href="#d" x="528.9" y="398.3"/><use href="#d" x="528.9" y="403.0"/><use href="#d" x="540.0" y="158.9"/><use href="#d" x="540.0" y="205.4"/><use href="#d" x="540.0" y="205.4"/><use href="#d" x="540.0" y="205.4"/><use href="#d" x="540.0" y="225.2"/><use href="#d" x="540.0" y="253.4"/><use href="#d" x="540.0" y="276.0"/><use href="#d" x="540.0" y="276.0"/><use href="#d" x="540.0" y="280.7"/><use href="#d" x="540.0" y="315.0"/><use href="#d" x="540.0" y="340.0"/><use href="#d" x="540.0" y="348.9"/><use href="#d" x="540.0" y="356.0"/><use href="#d" x="540.0" y="360.7"/><use href="#d" x="540.0" y="365.4"/><use href="#d" x="540.0" y="372.4"/><use href="#d" x="540.0" y="379.5"/><use href="#d" x="540.0" y="379.5"/><use href="#d" x="540.0" y="384.2"/><use href="#d" x="540.0" y="412.9"/><use href="#d" x="540.0" y="414.3"/><use href="#d" x="551.2" y="193.2"/><use href="#d" x="551.2" y="213.9"/><use href="#d" x="551.2" y="217.2"/><use href="#d" x="551.2" y="239.8"/><use href="#d" x="551.2" y="257.7"/><use href="#d" x="551.2" y="315.0"/><use href="#d" x="551.2" y="348.9"/><use href="#d" x="551.2" y="388.9"/><use href="#d" x="551.2" y="496.6"/><use href="#d" x="551.2" y="569.1"/><use href="#d" x="562.3" y="158.9"/><use href="#d" x="562.3" y="284.5"/><use href="#d" x="562.3" y="302.8"/><use href="#d" x="562.3" y="302.8"/><use href="#d" x="562.3" y="302.8"/><use href="#d" x="562.3" y="330.1"/><use href="#d" x="562.3" y="334.3"/><use href="#d" x="562.3" y="337.6"/><use href="#d" x="562.3" y="342.3"/><use href="#d" x="562.3" y="395.0"/><use href="#d" x="562.3" y="399.7"/><use href="#d" x="562.3" y="410.1"/><use href="#d" x="573.4" y="158.9"/><use href="#d" x="573.4" y="211.6"/><use href="#d" x="573.4" y="220.5"/><use href="#d" x="573.4" y="239.8"/><use href="#d" x="573.4" y="243.1"/><use href="#d" x="573.4" y="268.9"/><use href="#d" x="573.4" y="273.6"/><use href="#d" x="573.4" y="302.8"/><use href="#d" x="573.4" y="302.8"/><use href="#d" x="573.4" y="302.8"/><use href="#d" x="584.5" y="201.2"/><use href="#d" x="584.5" y="214.8"/><use href="#d" x="584.5" y="214.8"/><use href="#d" x="584.5" y="238.4"/><use href="#d" x="584.5" y="240.7"/><use href="#d" x="584.5" y="357.4"/><use href="#d" x="584.5" y="390.3"/><use href="#d" x="595.7" y="242.1"/><use href="#d" x="595.7" y="247.8"/><use href="#d" x="595.7" y="305.6"/><use href="#d" x="606.8" y="221.0"/><use href="#d" x="606.8" y="282.6"/><use href="#d" x="606.8" y="366.8"/><use href="#d" x="617.9" y="244.0"/><use href="#d" x="617.9" y="247.8"/><use href="#d" x="617.9" y="339.0"/><use href="#d" x="617.9" y="385.6"/><use href="#d" x="617.9" y="464.2"/><use href="#d" x="629.1" y="153.7"/><use href="#d" x="629.1" y="201.7"/><use href="#d" x="629.1" y="235.5"/><use href="#d" x="640.2" y="153.7"/><use href="#d" x="640.2" y="261.9"/><use href="#d" x="640.2" y="385.6"/><use href="#d" x="651.3" y="163.6"/><use href="#d" x="651.3" y="261.9"/><use href="#d" x="651.3" y="491.4"/><use href="#d" x="673.6" y="390.3"/><use href="#d" x="684.7" y="283.1"/><use href="#d" x="684.7" y="334.8"/><use href="#d" x="718.1" y="292.2"/><use href="#d" x="718.1" y="306.1"/><use href="#d" x="751.5" y="249.2"/><use href="#d" x="762.6" y="372.0"/><use href="#d" x="784.9" y="163.1"/><use href="#d" x="784.9" y="177.7"/><use href="#d" x="784.9" y="184.7"/><use href="#d" x="784.9" y="186.6"/><use href="#d" x="784.9" y="189.0"/><use href="#d" x="784.9" y="206.9"/><use href="#d" x="784.9" y="206.9"/><use href="#d" x="784.9" y="206.9"/><use href="#d" x="784.9" y="268.5"/><use href="#d" x="784.9" y="310.8"/><use href="#d" x="796.0" y="240.2"/><use href="#d" x="807.1" y="153.7"/><use href="#d" x="829.4" y="134.9"/>
</g>
<line x1="148.9" y1="672.6" x2="752.6" y2="82.4" stroke="#da0a08" stroke-width="4.9"/>
<rect x="117.0" y="51.0" width="746.0" height="727.0" fill="none" stroke="#000" stroke-width="2.8"/>
<line x1="150.5" y1="778.0" x2="150.5" y2="790.2" stroke="#000" stroke-width="2.6"/>
<text class="tk" x="150.5" y="826.1" text-anchor="middle">10</text>
<line x1="350.8" y1="778.0" x2="350.8" y2="790.2" stroke="#000" stroke-width="2.6"/>
<text class="tk" x="350.8" y="826.1" text-anchor="middle">20</text>
<line x1="551.2" y1="778.0" x2="551.2" y2="790.2" stroke="#000" stroke-width="2.6"/>
<text class="tk" x="551.2" y="826.1" text-anchor="middle">30</text>
<line x1="751.5" y1="778.0" x2="751.5" y2="790.2" stroke="#000" stroke-width="2.6"/>
<text class="tk" x="751.5" y="826.1" text-anchor="middle">40</text>
<line x1="104.8" y1="746.4" x2="117.0" y2="746.4" stroke="#000" stroke-width="2.6"/>
<text class="tk" x="92.8" y="758.6" text-anchor="end">20</text>
<line x1="104.8" y1="652.3" x2="117.0" y2="652.3" stroke="#000" stroke-width="2.6"/>
<text class="tk" x="92.8" y="664.5" text-anchor="end">22</text>
<line x1="104.8" y1="558.2" x2="117.0" y2="558.2" stroke="#000" stroke-width="2.6"/>
<text class="tk" x="92.8" y="570.4" text-anchor="end">24</text>
<line x1="104.8" y1="464.2" x2="117.0" y2="464.2" stroke="#000" stroke-width="2.6"/>
<text class="tk" x="92.8" y="476.4" text-anchor="end">26</text>
<line x1="104.8" y1="370.1" x2="117.0" y2="370.1" stroke="#000" stroke-width="2.6"/>
<text class="tk" x="92.8" y="382.3" text-anchor="end">28</text>
<line x1="104.8" y1="276.0" x2="117.0" y2="276.0" stroke="#000" stroke-width="2.6"/>
<text class="tk" x="92.8" y="288.2" text-anchor="end">30</text>
<line x1="104.8" y1="181.9" x2="117.0" y2="181.9" stroke="#000" stroke-width="2.6"/>
<text class="tk" x="92.8" y="194.1" text-anchor="end">32</text>
<line x1="104.8" y1="87.8" x2="117.0" y2="87.8" stroke="#000" stroke-width="2.6"/>
<text class="tk" x="92.8" y="100.0" text-anchor="end">34</text>
<line x1="144.4" y1="94.2" x2="216.1" y2="94.2" stroke="#da0a08" stroke-width="5"/>
<g><use href="#d" x="180.3" y="145.9"/></g>
<text class="lg" x="240.3" y="106.3">Predictions</text>
<text class="lg" x="240.3" y="155.1">Data</text>
<text class="tt" y="29.2"><tspan x="347.9" textLength="97.4" lengthAdjust="spacingAndGlyphs">LR-SL-</tspan> <tspan x="454.8" textLength="92" lengthAdjust="spacingAndGlyphs">Water</tspan> <tspan x="558.1" textLength="29.8" lengthAdjust="spacingAndGlyphs">vs</tspan> <tspan x="599.1" textLength="44.6" lengthAdjust="spacingAndGlyphs">Air</tspan></text>
<text class="pl" x="19.4" y="40.5" textLength="30.4" lengthAdjust="spacingAndGlyphs">A</text>
<text class="ax" x="490" y="872" text-anchor="middle">Air Temp. (°C)</text>
<text class="ax" transform="translate(30,415.2) rotate(-90)" text-anchor="middle">Water Temp. (°C)</text>
<g>
<use href="#d" x="1125.9" y="681.2"/><use href="#d" x="1125.9" y="690.6"/><use href="#d" x="1125.9" y="695.2"/><use href="#d" x="1125.9" y="695.2"/><use href="#d" x="1136.7" y="655.6"/><use href="#d" x="1136.7" y="662.6"/><use href="#d" x="1136.7" y="676.6"/><use href="#d" x="1136.7" y="695.2"/><use href="#d" x="1136.7" y="695.2"/><use href="#d" x="1136.7" y="710.6"/><use href="#d" x="1147.4" y="623.9"/><use href="#d" x="1147.4" y="664.0"/><use href="#d" x="1147.4" y="667.3"/><use href="#d" x="1147.4" y="669.1"/><use href="#d" x="1147.4" y="681.2"/><use href="#d" x="1147.4" y="704.6"/><use href="#d" x="1147.4" y="695.2"/><use href="#d" x="1158.2" y="601.0"/><use href="#d" x="1158.2" y="660.3"/><use href="#d" x="1158.2" y="664.9"/><use href="#d" x="1158.2" y="687.8"/><use href="#d" x="1158.2" y="690.6"/><use href="#d" x="1158.2" y="709.2"/><use href="#d" x="1158.2" y="709.2"/><use href="#d" x="1158.2" y="704.6"/><use href="#d" x="1158.2" y="692.9"/><use href="#d" x="1169.0" y="488.2"/><use href="#d" x="1169.0" y="501.7"/><use href="#d" x="1169.0" y="508.7"/><use href="#d" x="1169.0" y="518.0"/><use href="#d" x="1169.0" y="522.7"/><use href="#d" x="1169.0" y="532.0"/><use href="#d" x="1169.0" y="541.3"/><use href="#d" x="1169.0" y="550.7"/><use href="#d" x="1169.0" y="578.6"/><use href="#d" x="1169.0" y="590.3"/><use href="#d" x="1169.0" y="629.9"/><use href="#d" x="1169.0" y="629.9"/><use href="#d" x="1169.0" y="625.3"/><use href="#d" x="1169.0" y="625.3"/><use href="#d" x="1169.0" y="620.6"/><use href="#d" x="1169.0" y="620.6"/><use href="#d" x="1169.0" y="616.0"/><use href="#d" x="1169.0" y="616.0"/><use href="#d" x="1169.0" y="646.7"/><use href="#d" x="1169.0" y="650.9"/><use href="#d" x="1169.0" y="667.3"/><use href="#d" x="1169.0" y="731.6"/><use href="#d" x="1169.0" y="731.6"/><use href="#d" x="1169.0" y="749.8"/><use href="#d" x="1179.8" y="471.4"/><use href="#d" x="1179.8" y="485.4"/><use href="#d" x="1179.8" y="494.7"/><use href="#d" x="1179.8" y="564.6"/><use href="#d" x="1179.8" y="560.0"/><use href="#d" x="1179.8" y="555.3"/><use href="#d" x="1179.8" y="555.3"/><use href="#d" x="1179.8" y="550.7"/><use href="#d" x="1179.8" y="550.7"/><use href="#d" x="1179.8" y="546.0"/><use href="#d" x="1179.8" y="546.0"/><use href="#d" x="1179.8" y="546.0"/><use href="#d" x="1179.8" y="541.3"/><use href="#d" x="1179.8" y="541.3"/><use href="#d" x="1179.8" y="541.3"/><use href="#d" x="1179.8" y="536.7"/><use href="#d" x="1179.8" y="536.7"/><use href="#d" x="1179.8" y="536.7"/><use href="#d" x="1179.8" y="532.0"/><use href="#d" x="1179.8" y="532.0"/><use href="#d" x="1179.8" y="532.0"/><use href="#d" x="1179.8" y="527.3"/><use href="#d" x="1179.8" y="527.3"/><use href="#d" x="1179.8" y="527.3"/><use href="#d" x="1179.8" y="522.7"/><use href="#d" x="1179.8" y="522.7"/><use href="#d" x="1179.8" y="522.7"/><use href="#d" x="1179.8" y="518.0"/><use href="#d" x="1179.8" y="518.0"/><use href="#d" x="1179.8" y="513.3"/><use href="#d" x="1179.8" y="513.3"/><use href="#d" x="1179.8" y="508.7"/><use href="#d" x="1179.8" y="504.0"/><use href="#d" x="1179.8" y="583.3"/><use href="#d" x="1179.8" y="597.3"/><use href="#d" x="1179.8" y="616.0"/><use href="#d" x="1179.8" y="625.3"/><use href="#d" x="1179.8" y="648.6"/><use href="#d" x="1179.8" y="654.2"/><use href="#d" x="1179.8" y="660.7"/><use href="#d" x="1179.8" y="684.5"/><use href="#d" x="1179.8" y="701.3"/><use href="#d" x="1179.8" y="701.3"/><use href="#d" x="1179.8" y="709.2"/><use href="#d" x="1179.8" y="719.5"/><use href="#d" x="1179.8" y="732.6"/><use href="#d" x="1179.8" y="732.6"/><use href="#d" x="1179.8" y="737.2"/><use href="#d" x="1179.8" y="737.2"/><use href="#d" x="1179.8" y="739.6"/><use href="#d" x="1179.8" y="741.9"/><use href="#d" x="1179.8" y="744.2"/><use href="#d" x="1179.8" y="744.2"/><use href="#d" x="1190.5" y="466.7"/><use href="#d" x="1190.5" y="478.4"/><use href="#d" x="1190.5" y="485.4"/><use href="#d" x="1190.5" y="574.0"/><use href="#d" x="1190.5" y="569.3"/><use href="#d" x="1190.5" y="564.6"/><use href="#d" x="1190.5" y="564.6"/><use href="#d" x="1190.5" y="560.0"/><use href="#d" x="1190.5" y="560.0"/><use href="#d" x="1190.5" y="555.3"/><use href="#d" x="1190.5" y="555.3"/><use href="#d" x="1190.5" y="555.3"/><use href="#d" x="1190.5" y="550.7"/><use href="#d" x="1190.5" y="550.7"/><use href="#d" x="1190.5" y="550.7"/><use href="#d" x="1190.5" y="546.0"/><use href="#d" x="1190.5" y="546.0"/><use href="#d" x="1190.5" y="546.0"/><use href="#d" x="1190.5" y="541.3"/><use href="#d" x="1190.5" y="541.3"/><use href="#d" x="1190.5" y="541.3"/><use href="#d" x="1190.5" y="536.7"/><use href="#d" x="1190.5" y="536.7"/><use href="#d" x="1190.5" y="536.7"/><use href="#d" x="1190.5" y="532.0"/><use href="#d" x="1190.5" y="532.0"/><use href="#d" x="1190.5" y="532.0"/><use href="#d" x="1190.5" y="527.3"/><use href="#d" x="1190.5" y="527.3"/><use href="#d" x="1190.5" y="527.3"/><use href="#d" x="1190.5" y="522.7"/><use href="#d" x="1190.5" y="522.7"/><use href="#d" x="1190.5" y="522.7"/><use href="#d" x="1190.5" y="518.0"/><use href="#d" x="1190.5" y="518.0"/><use href="#d" x="1190.5" y="518.0"/><use href="#d" x="1190.5" y="513.3"/><use href="#d" x="1190.5" y="513.3"/><use href="#d" x="1190.5" y="513.3"/><use href="#d" x="1190.5" y="508.7"/><use href="#d" x="1190.5" y="508.7"/><use href="#d" x="1190.5" y="504.0"/><use href="#d" x="1190.5" y="504.0"/><use href="#d" x="1190.5" y="499.4"/><use href="#d" x="1190.5" y="494.7"/><use href="#d" x="1190.5" y="588.0"/><use href="#d" x="1190.5" y="597.3"/><use href="#d" x="1190.5" y="613.6"/><use href="#d" x="1190.5" y="637.4"/><use href="#d" x="1190.5" y="646.7"/><use href="#d" x="1190.5" y="648.6"/><use href="#d" x="1190.5" y="679.4"/><use href="#d" x="1190.5" y="682.6"/><use href="#d" x="1190.5" y="681.2"/><use href="#d" x="1190.5" y="726.5"/><use href="#d" x="1201.3" y="457.4"/><use href="#d" x="1201.3" y="466.7"/><use href="#d" x="1201.3" y="476.0"/><use href="#d" x="1201.3" y="578.6"/><use href="#d" x="1201.3" y="574.0"/><use href="#d" x="1201.3" y="569.3"/><use href="#d" x="1201.3" y="569.3"/><use href="#d" x="1201.3" y="564.6"/><use href="#d" x="1201.3" y="564.6"/><use href="#d" x="1201.3" y="560.0"/><use href="#d" x="1201.3" y="560.0"/><use href="#d" x="1201.3" y="560.0"/><use href="#d" x="1201.3" y="555.3"/><use href="#d" x="1201.3" y="555.3"/><use href="#d" x="1201.3" y="555.3"/><use href="#d" x="1201.3" y="550.7"/><use href="#d" x="1201.3" y="550.7"/><use href="#d" x="1201.3" y="550.7"/><use href="#d" x="1201.3" y="546.0"/><use href="#d" x="1201.3" y="546.0"/><use href="#d" x="1201.3" y="546.0"/><use href="#d" x="1201.3" y="541.3"/><use href="#d" x="1201.3" y="541.3"/><use href="#d" x="1201.3" y="541.3"/><use href="#d" x="1201.3" y="536.7"/><use href="#d" x="1201.3" y="536.7"/><use href="#d" x="1201.3" y="536.7"/><use href="#d" x="1201.3" y="532.0"/><use href="#d" x="1201.3" y="532.0"/><use href="#d" x="1201.3" y="532.0"/><use href="#d" x="1201.3" y="527.3"/><use href="#d" x="1201.3" y="527.3"/><use href="#d" x="1201.3" y="527.3"/><use href="#d" x="1201.3" y="522.7"/><use href="#d" x="1201.3" y="522.7"/><use href="#d" x="1201.3" y="522.7"/><use href="#d" x="1201.3" y="518.0"/><use href="#d" x="1201.3" y="518.0"/><use href="#d" x="1201.3" y="518.0"/><use href="#d" x="1201.3" y="513.3"/><use href="#d" x="1201.3" y="513.3"/><use href="#d" x="1201.3" y="513.3"/><use href="#d" x="1201.3" y="508.7"/><use href="#d" x="1201.3" y="508.7"/><use href="#d" x="1201.3" y="508.7"/><use href="#d" x="1201.3" y="504.0"/><use href="#d" x="1201.3" y="504.0"/><use href="#d" x="1201.3" y="504.0"/><use href="#d" x="1201.3" y="499.4"/><use href="#d" x="1201.3" y="499.4"/><use href="#d" x="1201.3" y="494.7"/><use href="#d" x="1201.3" y="494.7"/><use href="#d" x="1201.3" y="490.0"/><use href="#d" x="1201.3" y="485.4"/><use href="#d" x="1201.3" y="588.0"/><use href="#d" x="1201.3" y="611.3"/><use href="#d" x="1201.3" y="642.5"/><use href="#d" x="1201.3" y="648.6"/><use href="#d" x="1201.3" y="655.6"/><use href="#d" x="1201.3" y="679.4"/><use href="#d" x="1201.3" y="682.6"/><use href="#d" x="1212.1" y="424.7"/><use href="#d" x="1212.1" y="443.4"/><use href="#d" x="1212.1" y="578.6"/><use href="#d" x="1212.1" y="574.0"/><use href="#d" x="1212.1" y="569.3"/><use href="#d" x="1212.1" y="569.3"/><use href="#d" x="1212.1" y="564.6"/><use href="#d" x="1212.1" y="564.6"/><use href="#d" x="1212.1" y="560.0"/><use href="#d" x="1212.1" y="560.0"/><use href="#d" x="1212.1" y="560.0"/><use href="#d" x="1212.1" y="555.3"/><use href="#d" x="1212.1" y="555.3"/><use href="#d" x="1212.1" y="555.3"/><use href="#d" x="1212.1" y="550.7"/><use href="#d" x="1212.1" y="550.7"/><use href="#d" x="1212.1" y="550.7"/><use href="#d" x="1212.1" y="546.0"/><use href="#d" x="1212.1" y="546.0"/><use href="#d" x="1212.1" y="546.0"/><use href="#d" x="1212.1" y="541.3"/><use href="#d" x="1212.1" y="541.3"/><use href="#d" x="1212.1" y="541.3"/><use href="#d" x="1212.1" y="536.7"/><use href="#d" x="1212.1" y="536.7"/><use href="#d" x="1212.1" y="536.7"/><use href="#d" x="1212.1" y="532.0"/><use href="#d" x="1212.1" y="532.0"/><use href="#d" x="1212.1" y="532.0"/><use href="#d" x="1212.1" y="527.3"/><use href="#d" x="1212.1" y="527.3"/><use href="#d" x="1212.1" y="527.3"/><use href="#d" x="1212.1" y="522.7"/><use href="#d" x="1212.1" y="522.7"/><use href="#d" x="1212.1" y="522.7"/><use href="#d" x="1212.1" y="518.0"/><use href="#d" x="1212.1" y="518.0"/><use href="#d" x="1212.1" y="518.0"/><use href="#d" x="1212.1" y="513.3"/><use href="#d" x="1212.1" y="513.3"/><use href="#d" x="1212.1" y="513.3"/><use href="#d" x="1212.1" y="508.7"/><use href="#d" x="1212.1" y="508.7"/><use href="#d" x="1212.1" y="508.7"/><use href="#d" x="1212.1" y="504.0"/><use href="#d" x="1212.1" y="504.0"/><use href="#d" x="1212.1" y="504.0"/><use href="#d" x="1212.1" y="499.4"/><use href="#d" x="1212.1" y="499.4"/><use href="#d" x="1212.1" y="499.4"/><use href="#d" x="1212.1" y="494.7"/><use href="#d" x="1212.1" y="494.7"/><use href="#d" x="1212.1" y="494.7"/><use href="#d" x="1212.1" y="490.0"/><use href="#d" x="1212.1" y="490.0"/><use href="#d" x="1212.1" y="490.0"/><use href="#d" x="1212.1" y="485.4"/><use href="#d" x="1212.1" y="485.4"/><use href="#d" x="1212.1" y="485.4"/><use href="#d" x="1212.1" y="480.7"/><use href="#d" x="1212.1" y="480.7"/><use href="#d" x="1212.1" y="480.7"/><use href="#d" x="1212.1" y="476.0"/><use href="#d" x="1212.1" y="476.0"/><use href="#d" x="1212.1" y="476.0"/><use href="#d" x="1212.1" y="471.4"/><use href="#d" x="1212.1" y="471.4"/><use href="#d" x="1212.1" y="471.4"/><use href="#d" x="1212.1" y="466.7"/><use href="#d" x="1212.1" y="466.7"/><use href="#d" x="1212.1" y="466.7"/><use href="#d" x="1212.1" y="462.0"/><use href="#d" x="1212.1" y="462.0"/><use href="#d" x="1212.1" y="457.4"/><use href="#d" x="1212.1" y="457.4"/><use href="#d" x="1212.1" y="452.7"/><use href="#d" x="1212.1" y="448.0"/><use href="#d" x="1222.9" y="420.1"/><use href="#d" x="1222.9" y="578.6"/><use href="#d" x="1222.9" y="574.0"/><use href="#d" x="1222.9" y="569.3"/><use href="#d" x="1222.9" y="569.3"/><use href="#d" x="1222.9" y="564.6"/><use href="#d" x="1222.9" y="564.6"/><use href="#d" x="1222.9" y="560.0"/><use href="#d" x="1222.9" y="560.0"/><use href="#d" x="1222.9" y="560.0"/><use href="#d" x="1222.9" y="555.3"/><use href="#d" x="1222.9" y="555.3"/><use href="#d" x="1222.9" y="555.3"/><use href="#d" x="1222.9" y="550.7"/><use href="#d" x="1222.9" y="550.7"/><use href="#d" x="1222.9" y="550.7"/><use href="#d" x="1222.9" y="546.0"/><use href="#d" x="1222.9" y="546.0"/><use href="#d" x="1222.9" y="546.0"/><use href="#d" x="1222.9" y="541.3"/><use href="#d" x="1222.9" y="541.3"/><use href="#d" x="1222.9" y="541.3"/><use href="#d" x="1222.9" y="536.7"/><use href="#d" x="1222.9" y="536.7"/><use href="#d" x="1222.9" y="536.7"/><use href="#d" x="1222.9" y="532.0"/><use href="#d" x="1222.9" y="532.0"/><use href="#d" x="1222.9" y="532.0"/><use href="#d" x="1222.9" y="527.3"/><use href="#d" x="1222.9" y="527.3"/><use href="#d" x="1222.9" y="527.3"/><use href="#d" x="1222.9" y="522.7"/><use href="#d" x="1222.9" y="522.7"/><use href="#d" x="1222.9" y="522.7"/><use href="#d" x="1222.9" y="518.0"/><use href="#d" x="1222.9" y="518.0"/><use href="#d" x="1222.9" y="518.0"/><use href="#d" x="1222.9" y="513.3"/><use href="#d" x="1222.9" y="513.3"/><use href="#d" x="1222.9" y="513.3"/><use href="#d" x="1222.9" y="508.7"/><use href="#d" x="1222.9" y="508.7"/><use href="#d" x="1222.9" y="508.7"/><use href="#d" x="1222.9" y="504.0"/><use href="#d" x="1222.9" y="504.0"/><use href="#d" x="1222.9" y="504.0"/><use href="#d" x="1222.9" y="499.4"/><use href="#d" x="1222.9" y="499.4"/><use href="#d" x="1222.9" y="499.4"/><use href="#d" x="1222.9" y="494.7"/><use href="#d" x="1222.9" y="494.7"/><use href="#d" x="1222.9" y="494.7"/><use href="#d" x="1222.9" y="490.0"/><use href="#d" x="1222.9" y="490.0"/><use href="#d" x="1222.9" y="490.0"/><use href="#d" x="1222.9" y="485.4"/><use href="#d" x="1222.9" y="485.4"/><use href="#d" x="1222.9" y="485.4"/><use href="#d" x="1222.9" y="480.7"/><use href="#d" x="1222.9" y="480.7"/><use href="#d" x="1222.9" y="480.7"/><use href="#d" x="1222.9" y="476.0"/><use href="#d" x="1222.9" y="476.0"/><use href="#d" x="1222.9" y="476.0"/><use href="#d" x="1222.9" y="471.4"/><use href="#d" x="1222.9" y="471.4"/><use href="#d" x="1222.9" y="471.4"/><use href="#d" x="1222.9" y="466.7"/><use href="#d" x="1222.9" y="466.7"/><use href="#d" x="1222.9" y="466.7"/><use href="#d" x="1222.9" y="462.0"/><use href="#d" x="1222.9" y="462.0"/><use href="#d" x="1222.9" y="462.0"/><use href="#d" x="1222.9" y="457.4"/><use href="#d" x="1222.9" y="457.4"/><use href="#d" x="1222.9" y="457.4"/><use href="#d" x="1222.9" y="452.7"/><use href="#d" x="1222.9" y="452.7"/><use href="#d" x="1222.9" y="452.7"/><use href="#d" x="1222.9" y="448.0"/><use href="#d" x="1222.9" y="448.0"/><use href="#d" x="1222.9" y="448.0"/><use href="#d" x="1222.9" y="443.4"/><use href="#d" x="1222.9" y="443.4"/><use href="#d" x="1222.9" y="443.4"/><use href="#d" x="1222.9" y="438.7"/><use href="#d" x="1222.9" y="438.7"/><use href="#d" x="1222.9" y="434.1"/><use href="#d" x="1222.9" y="434.1"/><use href="#d" x="1222.9" y="429.4"/><use href="#d" x="1222.9" y="424.7"/><use href="#d" x="1222.9" y="628.5"/><use href="#d" x="1222.9" y="647.2"/><use href="#d" x="1222.9" y="695.2"/><use href="#d" x="1233.7" y="410.7"/><use href="#d" x="1233.7" y="485.4"/><use href="#d" x="1233.7" y="480.7"/><use href="#d" x="1233.7" y="476.0"/><use href="#d" x="1233.7" y="476.0"/><use href="#d" x="1233.7" y="471.4"/><use href="#d" x="1233.7" y="471.4"/><use href="#d" x="1233.7" y="466.7"/><use href="#d" x="1233.7" y="466.7"/><use href="#d" x="1233.7" y="466.7"/><use href="#d" x="1233.7" y="462.0"/><use href="#d" x="1233.7" y="462.0"/><use href="#d" x="1233.7" y="462.0"/><use href="#d" x="1233.7" y="457.4"/><use href="#d" x="1233.7" y="457.4"/><use href="#d" x="1233.7" y="457.4"/><use href="#d" x="1233.7" y="452.7"/><use href="#d" x="1233.7" y="452.7"/><use href="#d" x="1233.7" y="452.7"/><use href="#d" x="1233.7" y="448.0"/><use href="#d" x="1233.7" y="448.0"/><use href="#d" x="1233.7" y="448.0"/><use href="#d" x="1233.7" y="443.4"/><use href="#d" x="1233.7" y="443.4"/><use href="#d" x="1233.7" y="443.4"/><use href="#d" x="1233.7" y="438.7"/><use href="#d" x="1233.7" y="438.7"/><use href="#d" x="1233.7" y="438.7"/><use href="#d" x="1233.7" y="434.1"/><use href="#d" x="1233.7" y="434.1"/><use href="#d" x="1233.7" y="434.1"/><use href="#d" x="1233.7" y="429.4"/><use href="#d" x="1233.7" y="429.4"/><use href="#d" x="1233.7" y="424.7"/><use href="#d" x="1233.7" y="424.7"/><use href="#d" x="1233.7" y="420.1"/><use href="#d" x="1233.7" y="415.4"/><use href="#d" x="1233.7" y="499.4"/><use href="#d" x="1233.7" y="513.3"/><use href="#d" x="1233.7" y="580.0"/><use href="#d" x="1233.7" y="569.3"/><use href="#d" x="1233.7" y="564.6"/><use href="#d" x="1233.7" y="560.0"/><use href="#d" x="1233.7" y="560.0"/><use href="#d" x="1233.7" y="555.3"/><use href="#d" x="1233.7" y="555.3"/><use href="#d" x="1233.7" y="550.7"/><use href="#d" x="1233.7" y="550.7"/><use href="#d" x="1233.7" y="550.7"/><use href="#d" x="1233.7" y="546.0"/><use href="#d" x="1233.7" y="546.0"/><use href="#d" x="1233.7" y="541.3"/><use href="#d" x="1233.7" y="541.3"/><use href="#d" x="1233.7" y="536.7"/><use href="#d" x="1233.7" y="532.0"/><use href="#d" x="1244.4" y="374.4"/><use href="#d" x="1244.4" y="476.0"/><use href="#d" x="1244.4" y="471.4"/><use href="#d" x="1244.4" y="466.7"/><use href="#d" x="1244.4" y="466.7"/><use href="#d" x="1244.4" y="462.0"/><use href="#d" x="1244.4" y="462.0"/><use href="#d" x="1244.4" y="457.4"/><use href="#d" x="1244.4" y="457.4"/><use href="#d" x="1244.4" y="457.4"/><use href="#d" x="1244.4" y="452.7"/><use href="#d" x="1244.4" y="452.7"/><use href="#d" x="1244.4" y="452.7"/><use href="#d" x="1244.4" y="448.0"/><use href="#d" x="1244.4" y="448.0"/><use href="#d" x="1244.4" y="448.0"/><use href="#d" x="1244.4" y="443.4"/><use href="#d" x="1244.4" y="443.4"/><use href="#d" x="1244.4" y="443.4"/><use href="#d" x="1244.4" y="438.7"/><use href="#d" x="1244.4" y="438.7"/><use href="#d" x="1244.4" y="438.7"/><use href="#d" x="1244.4" y="434.1"/><use href="#d" x="1244.4" y="434.1"/><use href="#d" x="1244.4" y="434.1"/><use href="#d" x="1244.4" y="429.4"/><use href="#d" x="1244.4" y="429.4"/><use href="#d" x="1244.4" y="429.4"/><use href="#d" x="1244.4" y="424.7"/><use href="#d" x="1244.4" y="424.7"/><use href="#d" x="1244.4" y="420.1"/><use href="#d" x="1244.4" y="420.1"/><use href="#d" x="1244.4" y="415.4"/><use href="#d" x="1244.4" y="410.7"/><use href="#d" x="1244.4" y="490.0"/><use href="#d" x="1244.4" y="506.3"/><use href="#d" x="1244.4" y="580.0"/><use href="#d" x="1244.4" y="569.3"/><use href="#d" x="1244.4" y="564.6"/><use href="#d" x="1244.4" y="560.0"/><use href="#d" x="1244.4" y="560.0"/><use href="#d" x="1244.4" y="555.3"/><use href="#d" x="1244.4" y="555.3"/><use href="#d" x="1244.4" y="550.7"/><use href="#d" x="1244.4" y="550.7"/><use href="#d" x="1244.4" y="550.7"/><use href="#d" x="1244.4" y="546.0"/><use href="#d" x="1244.4" y="546.0"/><use href="#d" x="1244.4" y="541.3"/><use href="#d" x="1244.4" y="541.3"/><use href="#d" x="1244.4" y="536.7"/><use href="#d" x="1244.4" y="532.0"/><use href="#d" x="1244.4" y="650.9"/><use href="#d" x="1244.4" y="659.3"/><use href="#d" x="1255.2" y="393.0"/><use href="#d" x="1255.2" y="471.4"/><use href="#d" x="1255.2" y="466.7"/><use href="#d" x="1255.2" y="462.0"/><use href="#d" x="1255.2" y="462.0"/><use href="#d" x="1255.2" y="457.4"/><use href="#d" x="1255.2" y="457.4"/><use href="#d" x="1255.2" y="452.7"/><use href="#d" x="1255.2" y="452.7"/><use href="#d" x="1255.2" y="452.7"/><use href="#d" x="1255.2" y="448.0"/><use href="#d" x="1255.2" y="448.0"/><use href="#d" x="1255.2" y="448.0"/><use href="#d" x="1255.2" y="443.4"/><use href="#d" x="1255.2" y="443.4"/><use href="#d" x="1255.2" y="443.4"/><use href="#d" x="1255.2" y="438.7"/><use href="#d" x="1255.2" y="438.7"/><use href="#d" x="1255.2" y="438.7"/><use href="#d" x="1255.2" y="434.1"/><use href="#d" x="1255.2" y="434.1"/><use href="#d" x="1255.2" y="434.1"/><use href="#d" x="1255.2" y="429.4"/><use href="#d" x="1255.2" y="429.4"/><use href="#d" x="1255.2" y="429.4"/><use href="#d" x="1255.2" y="424.7"/><use href="#d" x="1255.2" y="424.7"/><use href="#d" x="1255.2" y="424.7"/><use href="#d" x="1255.2" y="420.1"/><use href="#d" x="1255.2" y="420.1"/><use href="#d" x="1255.2" y="420.1"/><use href="#d" x="1255.2" y="415.4"/><use href="#d" x="1255.2" y="415.4"/><use href="#d" x="1255.2" y="410.7"/><use href="#d" x="1255.2" y="410.7"/><use href="#d" x="1255.2" y="406.1"/><use href="#d" x="1255.2" y="401.4"/><use href="#d" x="1255.2" y="494.7"/><use href="#d" x="1255.2" y="494.7"/><use href="#d" x="1255.2" y="569.3"/><use href="#d" x="1255.2" y="564.6"/><use href="#d" x="1255.2" y="560.0"/><use href="#d" x="1255.2" y="560.0"/><use href="#d" x="1255.2" y="555.3"/><use href="#d" x="1255.2" y="555.3"/><use href="#d" x="1255.2" y="550.7"/><use href="#d" x="1255.2" y="550.7"/><use href="#d" x="1255.2" y="550.7"/><use href="#d" x="1255.2" y="546.0"/><use href="#d" x="1255.2" y="546.0"/><use href="#d" x="1255.2" y="546.0"/><use href="#d" x="1255.2" y="541.3"/><use href="#d" x="1255.2" y="541.3"/><use href="#d" x="1255.2" y="536.7"/><use href="#d" x="1255.2" y="536.7"/><use href="#d" x="1255.2" y="532.0"/><use href="#d" x="1255.2" y="527.3"/><use href="#d" x="1255.2" y="664.0"/><use href="#d" x="1266.0" y="370.2"/><use href="#d" x="1266.0" y="393.0"/><use href="#d" x="1266.0" y="393.0"/><use href="#d" x="1266.0" y="393.0"/><use href="#d" x="1266.0" y="462.0"/><use href="#d" x="1266.0" y="457.4"/><use href="#d" x="1266.0" y="452.7"/><use href="#d" x="1266.0" y="452.7"/><use href="#d" x="1266.0" y="448.0"/><use href="#d" x="1266.0" y="448.0"/><use href="#d" x="1266.0" y="443.4"/><use href="#d" x="1266.0" y="443.4"/><use href="#d" x="1266.0" y="443.4"/><use href="#d" x="1266.0" y="438.7"/><use href="#d" x="1266.0" y="438.7"/><use href="#d" x="1266.0" y="438.7"/><use href="#d" x="1266.0" y="434.1"/><use href="#d" x="1266.0" y="434.1"/><use href="#d" x="1266.0" y="434.1"/><use href="#d" x="1266.0" y="429.4"/><use href="#d" x="1266.0" y="429.4"/><use href="#d" x="1266.0" y="429.4"/><use href="#d" x="1266.0" y="424.7"/><use href="#d" x="1266.0" y="424.7"/><use href="#d" x="1266.0" y="424.7"/><use href="#d" x="1266.0" y="420.1"/><use href="#d" x="1266.0" y="420.1"/><use href="#d" x="1266.0" y="420.1"/><use href="#d" x="1266.0" y="415.4"/><use href="#d" x="1266.0" y="415.4"/><use href="#d" x="1266.0" y="415.4"/><use href="#d" x="1266.0" y="410.7"/><use href="#d" x="1266.0" y="410.7"/><use href="#d" x="1266.0" y="406.1"/><use href="#d" x="1266.0" y="406.1"/><use href="#d" x="1266.0" y="401.4"/><use href="#d" x="1266.0" y="396.7"/><use href="#d" x="1266.0" y="485.4"/><use href="#d" x="1266.0" y="501.7"/><use href="#d" x="1266.0" y="568.4"/><use href="#d" x="1266.0" y="564.6"/><use href="#d" x="1266.0" y="560.0"/><use href="#d" x="1266.0" y="555.3"/><use href="#d" x="1266.0" y="555.3"/><use href="#d" x="1266.0" y="550.7"/><use href="#d" x="1266.0" y="550.7"/><use href="#d" x="1266.0" y="546.0"/><use href="#d" x="1266.0" y="546.0"/><use href="#d" x="1266.0" y="546.0"/><use href="#d" x="1266.0" y="541.3"/><use href="#d" x="1266.0" y="541.3"/><use href="#d" x="1266.0" y="541.3"/><use href="#d" x="1266.0" y="536.7"/><use href="#d" x="1266.0" y="536.7"/><use href="#d" x="1266.0" y="536.7"/><use href="#d" x="1266.0" y="532.0"/><use href="#d" x="1266.0" y="532.0"/><use href="#d" x="1266.0" y="532.0"/><use href="#d" x="1266.0" y="527.3"/><use href="#d" x="1266.0" y="527.3"/><use href="#d" x="1266.0" y="522.7"/><use href="#d" x="1266.0" y="522.7"/><use href="#d" x="1266.0" y="518.0"/><use href="#d" x="1266.0" y="513.3"/><use href="#d" x="1266.0" y="527.3"/><use href="#d" x="1266.0" y="522.7"/><use href="#d" x="1266.0" y="591.7"/><use href="#d" x="1266.0" y="597.3"/><use href="#d" x="1266.0" y="602.0"/><use href="#d" x="1276.8" y="359.4"/><use href="#d" x="1276.8" y="457.4"/><use href="#d" x="1276.8" y="452.7"/><use href="#d" x="1276.8" y="448.0"/><use href="#d" x="1276.8" y="448.0"/><use href="#d" x="1276.8" y="443.4"/><use href="#d" x="1276.8" y="443.4"/><use href="#d" x="1276.8" y="438.7"/><use href="#d" x="1276.8" y="438.7"/><use href="#d" x="1276.8" y="438.7"/><use href="#d" x="1276.8" y="434.1"/><use href="#d" x="1276.8" y="434.1"/><use href="#d" x="1276.8" y="434.1"/><use href="#d" x="1276.8" y="429.4"/><use href="#d" x="1276.8" y="429.4"/><use href="#d" x="1276.8" y="429.4"/><use href="#d" x="1276.8" y="424.7"/><use href="#d" x="1276.8" y="424.7"/><use href="#d" x="1276.8" y="424.7"/><use href="#d" x="1276.8" y="420.1"/><use href="#d" x="1276.8" y="420.1"/><use href="#d" x="1276.8" y="420.1"/><use href="#d" x="1276.8" y="415.4"/><use href="#d" x="1276.8" y="415.4"/><use href="#d" x="1276.8" y="415.4"/><use href="#d" x="1276.8" y="410.7"/><use href="#d" x="1276.8" y="410.7"/><use href="#d" x="1276.8" y="406.1"/><use href="#d" x="1276.8" y="406.1"/><use href="#d" x="1276.8" y="401.4"/><use href="#d" x="1276.8" y="396.7"/><use href="#d" x="1276.8" y="476.0"/><use href="#d" x="1276.8" y="504.0"/><use href="#d" x="1276.8" y="555.3"/><use href="#d" x="1276.8" y="550.7"/><use href="#d" x="1276.8" y="546.0"/><use href="#d" x="1276.8" y="546.0"/><use href="#d" x="1276.8" y="541.3"/><use href="#d" x="1276.8" y="541.3"/><use href="#d" x="1276.8" y="536.7"/><use href="#d" x="1276.8" y="536.7"/><use href="#d" x="1276.8" y="536.7"/><use href="#d" x="1276.8" y="532.0"/><use href="#d" x="1276.8" y="532.0"/><use href="#d" x="1276.8" y="532.0"/><use href="#d" x="1276.8" y="527.3"/><use href="#d" x="1276.8" y="527.3"/><use href="#d" x="1276.8" y="522.7"/><use href="#d" x="1276.8" y="522.7"/><use href="#d" x="1276.8" y="518.0"/><use href="#d" x="1276.8" y="513.3"/><use href="#d" x="1276.8" y="527.3"/><use href="#d" x="1276.8" y="522.7"/><use href="#d" x="1276.8" y="589.4"/><use href="#d" x="1276.8" y="620.2"/><use href="#d" x="1276.8" y="660.7"/><use href="#d" x="1287.5" y="323.5"/><use href="#d" x="1287.5" y="382.8"/><use href="#d" x="1287.5" y="382.8"/><use href="#d" x="1287.5" y="382.8"/><use href="#d" x="1287.5" y="387.4"/><use href="#d" x="1287.5" y="396.7"/><use href="#d" x="1287.5" y="410.7"/><use href="#d" x="1287.5" y="424.7"/><use href="#d" x="1287.5" y="434.1"/><use href="#d" x="1287.5" y="448.0"/><use href="#d" x="1287.5" y="490.0"/><use href="#d" x="1287.5" y="487.7"/><use href="#d" x="1287.5" y="513.3"/><use href="#d" x="1287.5" y="557.7"/><use href="#d" x="1287.5" y="555.3"/><use href="#d" x="1287.5" y="550.7"/><use href="#d" x="1287.5" y="546.0"/><use href="#d" x="1287.5" y="546.0"/><use href="#d" x="1287.5" y="541.3"/><use href="#d" x="1287.5" y="541.3"/><use href="#d" x="1287.5" y="536.7"/><use href="#d" x="1287.5" y="532.0"/><use href="#d" x="1287.5" y="452.7"/><use href="#d" x="1287.5" y="448.0"/><use href="#d" x="1287.5" y="443.4"/><use href="#d" x="1287.5" y="443.4"/><use href="#d" x="1287.5" y="438.7"/><use href="#d" x="1287.5" y="438.7"/><use href="#d" x="1287.5" y="434.1"/><use href="#d" x="1287.5" y="434.1"/><use href="#d" x="1287.5" y="434.1"/><use href="#d" x="1287.5" y="429.4"/><use href="#d" x="1287.5" y="429.4"/><use href="#d" x="1287.5" y="429.4"/><use href="#d" x="1287.5" y="424.7"/><use href="#d" x="1287.5" y="424.7"/><use href="#d" x="1287.5" y="424.7"/><use href="#d" x="1287.5" y="420.1"/><use href="#d" x="1287.5" y="420.1"/><use href="#d" x="1287.5" y="420.1"/><use href="#d" x="1287.5" y="415.4"/><use href="#d" x="1287.5" y="415.4"/><use href="#d" x="1287.5" y="410.7"/><use href="#d" x="1287.5" y="410.7"/><use href="#d" x="1287.5" y="406.1"/><use href="#d" x="1287.5" y="401.4"/><use href="#d" x="1298.3" y="305.8"/><use href="#d" x="1298.3" y="309.1"/><use href="#d" x="1298.3" y="337.0"/><use href="#d" x="1298.3" y="337.0"/><use href="#d" x="1298.3" y="354.8"/><use href="#d" x="1298.3" y="357.1"/><use href="#d" x="1298.3" y="361.8"/><use href="#d" x="1298.3" y="366.4"/><use href="#d" x="1298.3" y="452.7"/><use href="#d" x="1298.3" y="443.4"/><use href="#d" x="1298.3" y="434.1"/><use href="#d" x="1298.3" y="424.7"/><use href="#d" x="1298.3" y="415.4"/><use href="#d" x="1298.3" y="406.1"/><use href="#d" x="1298.3" y="396.7"/><use href="#d" x="1298.3" y="387.4"/><use href="#d" x="1298.3" y="378.1"/><use href="#d" x="1298.3" y="466.7"/><use href="#d" x="1298.3" y="480.7"/><use href="#d" x="1298.3" y="485.4"/><use href="#d" x="1298.3" y="506.8"/><use href="#d" x="1298.3" y="546.0"/><use href="#d" x="1298.3" y="541.3"/><use href="#d" x="1298.3" y="536.7"/><use href="#d" x="1298.3" y="532.0"/><use href="#d" x="1298.3" y="620.2"/><use href="#d" x="1298.3" y="448.0"/><use href="#d" x="1298.3" y="438.7"/><use href="#d" x="1298.3" y="429.4"/><use href="#d" x="1298.3" y="420.1"/><use href="#d" x="1298.3" y="410.7"/><use href="#d" x="1309.1" y="290.9"/><use href="#d" x="1309.1" y="331.4"/><use href="#d" x="1309.1" y="350.1"/><use href="#d" x="1309.1" y="387.4"/><use href="#d" x="1309.1" y="406.1"/><use href="#d" x="1309.1" y="424.7"/><use href="#d" x="1309.1" y="452.7"/><use href="#d" x="1309.1" y="471.4"/><use href="#d" x="1309.1" y="546.0"/><use href="#d" x="1309.1" y="541.3"/><use href="#d" x="1309.1" y="536.7"/><use href="#d" x="1309.1" y="536.7"/><use href="#d" x="1309.1" y="532.0"/><use href="#d" x="1309.1" y="532.0"/><use href="#d" x="1309.1" y="527.3"/><use href="#d" x="1309.1" y="527.3"/><use href="#d" x="1309.1" y="522.7"/><use href="#d" x="1309.1" y="522.7"/><use href="#d" x="1309.1" y="518.0"/><use href="#d" x="1309.1" y="513.3"/><use href="#d" x="1309.1" y="532.0"/><use href="#d" x="1309.1" y="522.7"/><use href="#d" x="1319.9" y="257.3"/><use href="#d" x="1319.9" y="289.5"/><use href="#d" x="1319.9" y="312.8"/><use href="#d" x="1319.9" y="312.8"/><use href="#d" x="1319.9" y="312.8"/><use href="#d" x="1319.9" y="345.4"/><use href="#d" x="1319.9" y="364.1"/><use href="#d" x="1319.9" y="369.2"/><use href="#d" x="1319.9" y="392.1"/><use href="#d" x="1319.9" y="396.7"/><use href="#d" x="1319.9" y="429.4"/><use href="#d" x="1319.9" y="436.4"/><use href="#d" x="1319.9" y="441.1"/><use href="#d" x="1319.9" y="484.4"/><use href="#d" x="1319.9" y="484.4"/><use href="#d" x="1319.9" y="509.1"/><use href="#d" x="1319.9" y="518.9"/><use href="#d" x="1319.9" y="529.2"/><use href="#d" x="1319.9" y="611.3"/><use href="#d" x="1330.7" y="229.3"/><use href="#d" x="1330.7" y="236.8"/><use href="#d" x="1330.7" y="256.8"/><use href="#d" x="1330.7" y="280.1"/><use href="#d" x="1330.7" y="312.8"/><use href="#d" x="1330.7" y="317.5"/><use href="#d" x="1330.7" y="367.4"/><use href="#d" x="1330.7" y="368.8"/><use href="#d" x="1330.7" y="368.8"/><use href="#d" x="1330.7" y="386.0"/><use href="#d" x="1330.7" y="387.4"/><use href="#d" x="1330.7" y="406.1"/><use href="#d" x="1330.7" y="408.4"/><use href="#d" x="1330.7" y="449.9"/><use href="#d" x="1330.7" y="455.0"/><use href="#d" x="1341.4" y="192.0"/><use href="#d" x="1341.4" y="244.2"/><use href="#d" x="1341.4" y="249.8"/><use href="#d" x="1341.4" y="289.5"/><use href="#d" x="1341.4" y="308.1"/><use href="#d" x="1341.4" y="308.1"/><use href="#d" x="1341.4" y="312.8"/><use href="#d" x="1341.4" y="317.5"/><use href="#d" x="1341.4" y="322.1"/><use href="#d" x="1341.4" y="350.1"/><use href="#d" x="1341.4" y="396.7"/><use href="#d" x="1341.4" y="427.5"/><use href="#d" x="1341.4" y="471.4"/><use href="#d" x="1341.4" y="485.4"/><use href="#d" x="1341.4" y="516.6"/><use href="#d" x="1341.4" y="298.8"/><use href="#d" x="1341.4" y="326.8"/><use href="#d" x="1341.4" y="331.4"/><use href="#d" x="1352.2" y="261.5"/><use href="#d" x="1352.2" y="264.8"/><use href="#d" x="1352.2" y="264.8"/><use href="#d" x="1352.2" y="264.8"/><use href="#d" x="1352.2" y="331.4"/><use href="#d" x="1352.2" y="331.4"/><use href="#d" x="1352.2" y="326.8"/><use href="#d" x="1352.2" y="326.8"/><use href="#d" x="1352.2" y="322.1"/><use href="#d" x="1352.2" y="322.1"/><use href="#d" x="1352.2" y="317.5"/><use href="#d" x="1352.2" y="317.5"/><use href="#d" x="1352.2" y="312.8"/><use href="#d" x="1352.2" y="312.8"/><use href="#d" x="1352.2" y="308.1"/><use href="#d" x="1352.2" y="308.1"/><use href="#d" x="1352.2" y="303.5"/><use href="#d" x="1352.2" y="303.5"/><use href="#d" x="1352.2" y="298.8"/><use href="#d" x="1352.2" y="298.8"/><use href="#d" x="1352.2" y="294.1"/><use href="#d" x="1352.2" y="294.1"/><use href="#d" x="1352.2" y="289.5"/><use href="#d" x="1352.2" y="289.5"/><use href="#d" x="1352.2" y="345.4"/><use href="#d" x="1352.2" y="345.4"/><use href="#d" x="1352.2" y="347.8"/><use href="#d" x="1352.2" y="364.1"/><use href="#d" x="1352.2" y="364.1"/><use href="#d" x="1352.2" y="366.4"/><use href="#d" x="1352.2" y="392.1"/><use href="#d" x="1352.2" y="397.2"/><use href="#d" x="1352.2" y="397.2"/><use href="#d" x="1352.2" y="452.7"/><use href="#d" x="1352.2" y="448.0"/><use href="#d" x="1352.2" y="443.4"/><use href="#d" x="1352.2" y="438.7"/><use href="#d" x="1352.2" y="434.1"/><use href="#d" x="1352.2" y="429.4"/><use href="#d" x="1352.2" y="474.6"/><use href="#d" x="1363.0" y="210.7"/><use href="#d" x="1363.0" y="219.5"/><use href="#d" x="1363.0" y="244.2"/><use href="#d" x="1363.0" y="280.1"/><use href="#d" x="1363.0" y="303.5"/><use href="#d" x="1363.0" y="326.8"/><use href="#d" x="1363.0" y="373.4"/><use href="#d" x="1363.0" y="378.1"/><use href="#d" x="1363.0" y="421.0"/><use href="#d" x="1363.0" y="448.0"/><use href="#d" x="1363.0" y="466.7"/><use href="#d" x="1363.0" y="491.0"/><use href="#d" x="1363.0" y="495.2"/><use href="#d" x="1363.0" y="497.0"/><use href="#d" x="1363.0" y="623.9"/><use href="#d" x="1363.0" y="289.5"/><use href="#d" x="1363.0" y="298.8"/><use href="#d" x="1363.0" y="312.8"/><use href="#d" x="1363.0" y="317.5"/><use href="#d" x="1363.0" y="322.1"/><use href="#d" x="1373.8" y="229.8"/><use href="#d" x="1373.8" y="259.2"/><use href="#d" x="1373.8" y="275.5"/><use href="#d" x="1373.8" y="310.5"/><use href="#d" x="1373.8" y="317.5"/><use href="#d" x="1373.8" y="348.2"/><use href="#d" x="1373.8" y="352.9"/><use href="#d" x="1373.8" y="352.9"/><use href="#d" x="1373.8" y="378.1"/><use href="#d" x="1373.8" y="407.5"/><use href="#d" x="1373.8" y="425.2"/><use href="#d" x="1373.8" y="462.0"/><use href="#d" x="1373.8" y="462.0"/><use href="#d" x="1373.8" y="503.6"/><use href="#d" x="1373.8" y="266.2"/><use href="#d" x="1373.8" y="270.8"/><use href="#d" x="1373.8" y="289.5"/><use href="#d" x="1373.8" y="294.1"/><use href="#d" x="1373.8" y="303.5"/><use href="#d" x="1373.8" y="326.8"/><use href="#d" x="1373.8" y="331.4"/><use href="#d" x="1384.5" y="192.0"/><use href="#d" x="1384.5" y="224.6"/><use href="#d" x="1384.5" y="224.6"/><use href="#d" x="1384.5" y="256.8"/><use href="#d" x="1384.5" y="261.5"/><use href="#d" x="1384.5" y="261.5"/><use href="#d" x="1384.5" y="266.2"/><use href="#d" x="1384.5" y="284.8"/><use href="#d" x="1384.5" y="289.5"/><use href="#d" x="1384.5" y="294.1"/><use href="#d" x="1384.5" y="301.1"/><use href="#d" x="1384.5" y="326.8"/><use href="#d" x="1384.5" y="357.1"/><use href="#d" x="1384.5" y="357.1"/><use href="#d" x="1384.5" y="361.8"/><use href="#d" x="1384.5" y="374.8"/><use href="#d" x="1384.5" y="421.0"/><use href="#d" x="1384.5" y="421.0"/><use href="#d" x="1384.5" y="421.0"/><use href="#d" x="1384.5" y="466.7"/><use href="#d" x="1384.5" y="570.7"/><use href="#d" x="1384.5" y="270.8"/><use href="#d" x="1384.5" y="275.5"/><use href="#d" x="1395.3" y="192.0"/><use href="#d" x="1395.3" y="245.6"/><use href="#d" x="1395.3" y="245.6"/><use href="#d" x="1395.3" y="245.6"/><use href="#d" x="1395.3" y="255.4"/><use href="#d" x="1395.3" y="262.4"/><use href="#d" x="1395.3" y="266.6"/><use href="#d" x="1395.3" y="294.1"/><use href="#d" x="1395.3" y="298.8"/><use href="#d" x="1395.3" y="303.5"/><use href="#d" x="1395.3" y="308.1"/><use href="#d" x="1395.3" y="312.8"/><use href="#d" x="1395.3" y="316.1"/><use href="#d" x="1395.3" y="341.7"/><use href="#d" x="1395.3" y="388.3"/><use href="#d" x="1395.3" y="389.3"/><use href="#d" x="1395.3" y="448.0"/><use href="#d" x="1395.3" y="562.3"/><use href="#d" x="1395.3" y="270.8"/><use href="#d" x="1395.3" y="275.5"/><use href="#d" x="1406.1" y="147.2"/><use href="#d" x="1406.1" y="151.0"/><use href="#d" x="1406.1" y="154.2"/><use href="#d" x="1406.1" y="229.8"/><use href="#d" x="1406.1" y="289.9"/><use href="#d" x="1406.1" y="306.7"/><use href="#d" x="1406.1" y="328.2"/><use href="#d" x="1406.1" y="331.4"/><use href="#d" x="1406.1" y="331.4"/><use href="#d" x="1406.1" y="350.6"/><use href="#d" x="1406.1" y="403.7"/><use href="#d" x="1406.1" y="407.5"/><use href="#d" x="1406.1" y="407.5"/><use href="#d" x="1406.1" y="425.2"/><use href="#d" x="1406.1" y="298.8"/><use href="#d" x="1406.1" y="317.5"/><use href="#d" x="1416.9" y="168.7"/><use href="#d" x="1416.9" y="215.3"/><use href="#d" x="1416.9" y="257.8"/><use href="#d" x="1416.9" y="277.8"/><use href="#d" x="1416.9" y="277.8"/><use href="#d" x="1416.9" y="284.8"/><use href="#d" x="1416.9" y="345.9"/><use href="#d" x="1416.9" y="368.8"/><use href="#d" x="1416.9" y="369.2"/><use href="#d" x="1416.9" y="406.1"/><use href="#d" x="1416.9" y="410.7"/><use href="#d" x="1427.7" y="168.7"/><use href="#d" x="1427.7" y="214.8"/><use href="#d" x="1427.7" y="214.8"/><use href="#d" x="1427.7" y="214.8"/><use href="#d" x="1427.7" y="234.4"/><use href="#d" x="1427.7" y="262.4"/><use href="#d" x="1427.7" y="284.8"/><use href="#d" x="1427.7" y="284.8"/><use href="#d" x="1427.7" y="289.5"/><use href="#d" x="1427.7" y="323.5"/><use href="#d" x="1427.7" y="348.2"/><use href="#d" x="1427.7" y="357.1"/><use href="#d" x="1427.7" y="364.1"/><use href="#d" x="1427.7" y="368.8"/><use href="#d" x="1427.7" y="373.4"/><use href="#d" x="1427.7" y="380.4"/><use href="#d" x="1427.7" y="387.4"/><use href="#d" x="1427.7" y="387.4"/><use href="#d" x="1427.7" y="392.1"/><use href="#d" x="1427.7" y="420.5"/><use href="#d" x="1427.7" y="421.9"/><use href="#d" x="1438.4" y="202.7"/><use href="#d" x="1438.4" y="223.2"/><use href="#d" x="1438.4" y="226.5"/><use href="#d" x="1438.4" y="248.9"/><use href="#d" x="1438.4" y="266.6"/><use href="#d" x="1438.4" y="323.5"/><use href="#d" x="1438.4" y="357.1"/><use href="#d" x="1438.4" y="396.7"/><use href="#d" x="1438.4" y="503.6"/><use href="#d" x="1438.4" y="575.4"/><use href="#d" x="1449.2" y="168.7"/><use href="#d" x="1449.2" y="293.2"/><use href="#d" x="1449.2" y="311.4"/><use href="#d" x="1449.2" y="311.4"/><use href="#d" x="1449.2" y="311.4"/><use href="#d" x="1449.2" y="338.4"/><use href="#d" x="1449.2" y="342.6"/><use href="#d" x="1449.2" y="345.9"/><use href="#d" x="1449.2" y="350.6"/><use href="#d" x="1449.2" y="402.8"/><use href="#d" x="1449.2" y="407.5"/><use href="#d" x="1449.2" y="417.7"/><use href="#d" x="1460.0" y="168.7"/><use href="#d" x="1460.0" y="220.9"/><use href="#d" x="1460.0" y="229.8"/><use href="#d" x="1460.0" y="248.9"/><use href="#d" x="1460.0" y="252.2"/><use href="#d" x="1460.0" y="277.8"/><use href="#d" x="1460.0" y="282.5"/><use href="#d" x="1460.0" y="311.4"/><use href="#d" x="1460.0" y="311.4"/><use href="#d" x="1460.0" y="311.4"/><use href="#d" x="1470.8" y="210.7"/><use href="#d" x="1470.8" y="224.2"/><use href="#d" x="1470.8" y="224.2"/><use href="#d" x="1470.8" y="247.5"/><use href="#d" x="1470.8" y="249.8"/><use href="#d" x="1470.8" y="365.5"/><use href="#d" x="1470.8" y="398.1"/><use href="#d" x="1481.5" y="251.2"/><use href="#d" x="1481.5" y="256.8"/><use href="#d" x="1481.5" y="314.2"/><use href="#d" x="1492.3" y="230.2"/><use href="#d" x="1492.3" y="291.3"/><use href="#d" x="1492.3" y="374.8"/><use href="#d" x="1503.1" y="253.1"/><use href="#d" x="1503.1" y="256.8"/><use href="#d" x="1503.1" y="347.3"/><use href="#d" x="1503.1" y="393.5"/><use href="#d" x="1503.1" y="471.4"/><use href="#d" x="1513.9" y="163.5"/><use href="#d" x="1513.9" y="211.1"/><use href="#d" x="1513.9" y="244.7"/><use href="#d" x="1524.7" y="163.5"/><use href="#d" x="1524.7" y="270.8"/><use href="#d" x="1524.7" y="393.5"/><use href="#d" x="1535.4" y="173.3"/><use href="#d" x="1535.4" y="270.8"/><use href="#d" x="1535.4" y="498.4"/><use href="#d" x="1557.0" y="398.1"/><use href="#d" x="1567.8" y="291.8"/><use href="#d" x="1567.8" y="343.1"/><use href="#d" x="1600.1" y="300.9"/><use href="#d" x="1600.1" y="314.7"/><use href="#d" x="1632.4" y="258.2"/><use href="#d" x="1643.2" y="380.0"/><use href="#d" x="1664.8" y="172.9"/><use href="#d" x="1664.8" y="187.3"/><use href="#d" x="1664.8" y="194.3"/><use href="#d" x="1664.8" y="196.2"/><use href="#d" x="1664.8" y="198.5"/><use href="#d" x="1664.8" y="216.2"/><use href="#d" x="1664.8" y="216.2"/><use href="#d" x="1664.8" y="216.2"/><use href="#d" x="1664.8" y="277.3"/><use href="#d" x="1664.8" y="319.3"/><use href="#d" x="1675.5" y="249.4"/><use href="#d" x="1686.3" y="163.5"/><use href="#d" x="1707.9" y="144.9"/>
</g>
<polyline fill="none" stroke="#da0a08" stroke-width="4.9" stroke-linejoin="round" points="1106.9,701.4 1128.1,685.3 1145.9,644.6 1164.6,603.9 1179.8,570 1205.3,511.5 1225.6,484.4 1284.9,420 1300,402.4 1359.3,339.7 1401.7,299 1418.6,285.1 1472,291 1516,294.9 1590.6,294.4 1612.7,290.2 1632.2,270.7 1643.2,252.9 1663.5,217.3 1685.6,180 1690.6,170.2 1709.3,132.9 1729.6,85.4"/>
<rect x="1017.0" y="55.0" width="747.0" height="726.7" fill="none" stroke="#000" stroke-width="2.8"/>
<line x1="1050.6" y1="781.7" x2="1050.6" y2="793.9000000000001" stroke="#000" stroke-width="2.6"/>
<text class="tk" x="1050.6" y="829.8" text-anchor="middle">10</text>
<line x1="1251.0" y1="781.7" x2="1251.0" y2="793.9000000000001" stroke="#000" stroke-width="2.6"/>
<text class="tk" x="1251.0" y="829.8" text-anchor="middle">20</text>
<line x1="1451.4" y1="781.7" x2="1451.4" y2="793.9000000000001" stroke="#000" stroke-width="2.6"/>
<text class="tk" x="1451.4" y="829.8" text-anchor="middle">30</text>
<line x1="1651.8" y1="781.7" x2="1651.8" y2="793.9000000000001" stroke="#000" stroke-width="2.6"/>
<text class="tk" x="1651.8" y="829.8" text-anchor="middle">40</text>
<line x1="1004.8" y1="756.0" x2="1017.0" y2="756.0" stroke="#000" stroke-width="2.6"/>
<text class="tk" x="992.8" y="768.2" text-anchor="end">20</text>
<line x1="1004.8" y1="661.9" x2="1017.0" y2="661.9" stroke="#000" stroke-width="2.6"/>
<text class="tk" x="992.8" y="674.1" text-anchor="end">22</text>
<line x1="1004.8" y1="567.8" x2="1017.0" y2="567.8" stroke="#000" stroke-width="2.6"/>
<text class="tk" x="992.8" y="580.0" text-anchor="end">24</text>
<line x1="1004.8" y1="473.8" x2="1017.0" y2="473.8" stroke="#000" stroke-width="2.6"/>
<text class="tk" x="992.8" y="486.0" text-anchor="end">26</text>
<line x1="1004.8" y1="379.7" x2="1017.0" y2="379.7" stroke="#000" stroke-width="2.6"/>
<text class="tk" x="992.8" y="391.9" text-anchor="end">28</text>
<line x1="1004.8" y1="285.6" x2="1017.0" y2="285.6" stroke="#000" stroke-width="2.6"/>
<text class="tk" x="992.8" y="297.8" text-anchor="end">30</text>
<line x1="1004.8" y1="191.5" x2="1017.0" y2="191.5" stroke="#000" stroke-width="2.6"/>
<text class="tk" x="992.8" y="203.7" text-anchor="end">32</text>
<line x1="1004.8" y1="97.4" x2="1017.0" y2="97.4" stroke="#000" stroke-width="2.6"/>
<text class="tk" x="992.8" y="109.6" text-anchor="end">34</text>
<line x1="1044.6" y1="98.4" x2="1116.3" y2="98.4" stroke="#da0a08" stroke-width="5"/>
<g><use href="#d" x="1080.5" y="150.1"/></g>
<text class="lg" x="1140.5" y="110.5">Predictions</text>
<text class="lg" x="1140.5" y="159.3">Data</text>
<text class="tt" y="29.2"><tspan x="1227.8" textLength="135.7" lengthAdjust="spacingAndGlyphs">DNN-SL-</tspan> <tspan x="1372.9" textLength="91" lengthAdjust="spacingAndGlyphs">Water</tspan> <tspan x="1474.2" textLength="30" lengthAdjust="spacingAndGlyphs">vs</tspan> <tspan x="1515.3" textLength="45.4" lengthAdjust="spacingAndGlyphs">Air</tspan></text>
<text class="pl" x="924.0" y="43.4" textLength="30.6" lengthAdjust="spacingAndGlyphs">B</text>
<text class="ax" x="1390" y="876" text-anchor="middle">Air Temp. (°C)</text>
<text class="ax" transform="translate(930,425.2) rotate(-90)" text-anchor="middle">Water Temp. (°C)</text>
</svg></body></html>
